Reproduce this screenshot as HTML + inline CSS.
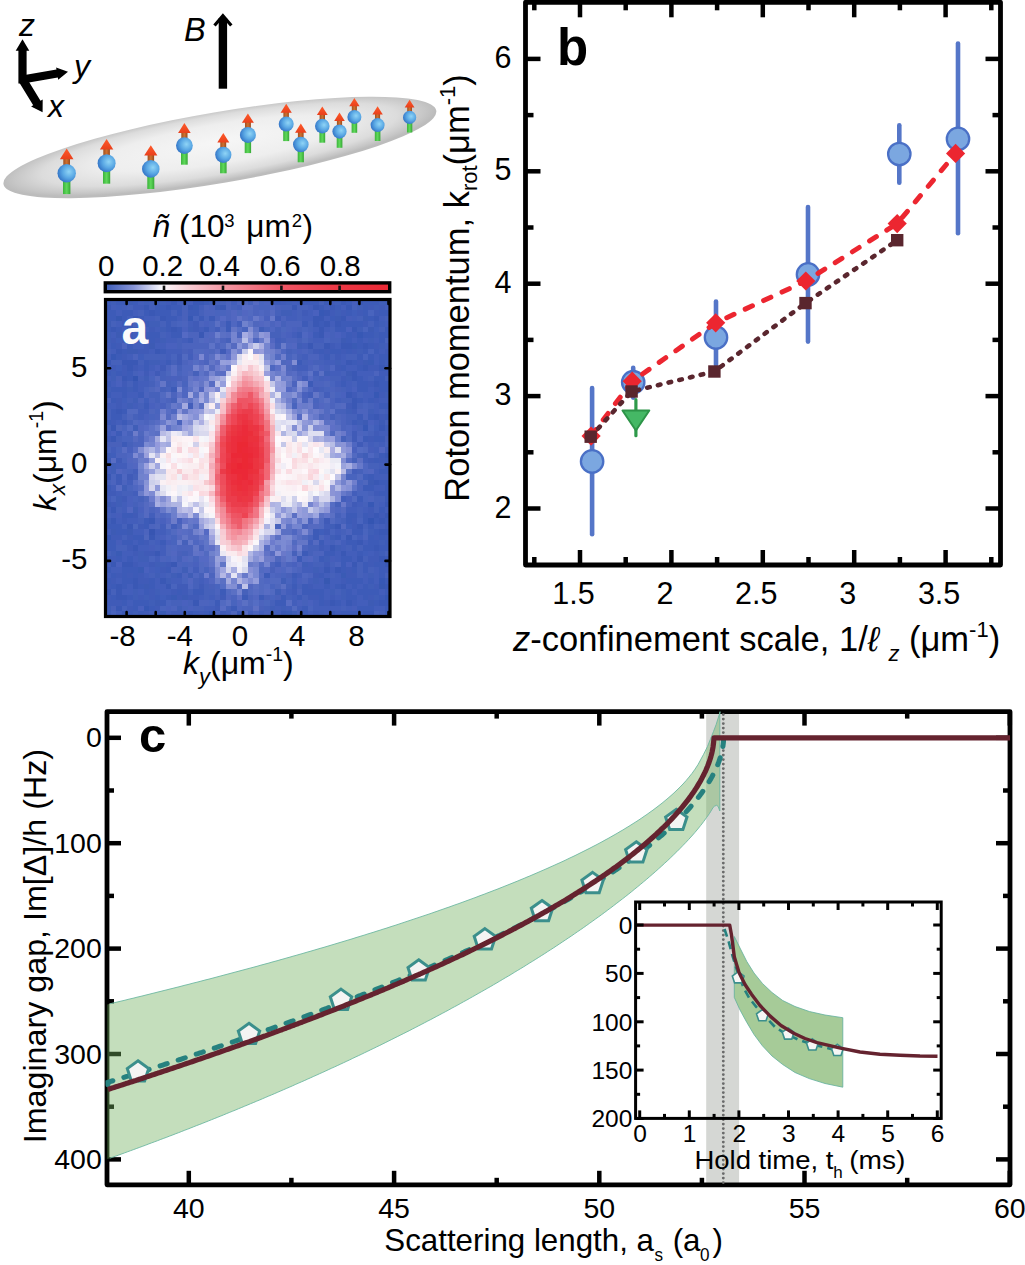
<!DOCTYPE html><html><head><meta charset="utf-8"><style>html,body{margin:0;padding:0;background:#fff;}svg{display:block;} text{font-family:"Liberation Sans", sans-serif;}</style></head><body><svg width="1025" height="1265" viewBox="0 0 1025 1265"><rect width="1025" height="1265" fill="#fff"/><defs><radialGradient id="cig" cx="0.5" cy="0.47" r="0.5" fx="0.5" fy="0.42"><stop offset="0" stop-color="#f6f6f6"/><stop offset="0.55" stop-color="#eeeeee"/><stop offset="0.82" stop-color="#dcdcdc"/><stop offset="0.95" stop-color="#c6c6c6"/><stop offset="1" stop-color="#bcbcbc"/></radialGradient><radialGradient id="ball" cx="0.62" cy="0.42" r="0.62"><stop offset="0" stop-color="#8fd4f6"/><stop offset="0.55" stop-color="#5aa8e4"/><stop offset="1" stop-color="#3577c8"/></radialGradient><linearGradient id="shaft" x1="0" x2="1"><stop offset="0" stop-color="#a0501f"/><stop offset="0.5" stop-color="#d0702e"/><stop offset="1" stop-color="#9a4a1c"/></linearGradient><linearGradient id="grn" x1="0" x2="1"><stop offset="0" stop-color="#3cb43c"/><stop offset="0.5" stop-color="#5fd85a"/><stop offset="1" stop-color="#36a836"/></linearGradient><linearGradient id="head" x1="0" x2="0" y1="0" y2="1"><stop offset="0" stop-color="#ff5a2a"/><stop offset="1" stop-color="#e8401c"/></linearGradient></defs>
<g transform="translate(219.9,147.4) rotate(-9.64)"><ellipse cx="0" cy="0" rx="219.5" ry="35.5" fill="url(#cig)"/></g>
<rect x="63" y="178.7" width="7.4" height="15.4" fill="url(#grn)"/>
<rect x="63.3" y="158.4" width="6.7" height="7.2" fill="url(#shaft)"/>
<polygon points="66.7,148.5 73.5,159.3 59.9,159.3" fill="url(#head)"/>
<circle cx="66.7" cy="173.2" r="9.2" fill="url(#ball)"/>
<rect x="103" y="168.6" width="7.2" height="15.1" fill="url(#grn)"/>
<rect x="103.3" y="148.7" width="6.6" height="7" fill="url(#shaft)"/>
<polygon points="106.6,139 113.3,149.6 99.9,149.6" fill="url(#head)"/>
<circle cx="106.6" cy="163.2" r="9" fill="url(#ball)"/>
<rect x="147.3" y="174.2" width="7" height="14.8" fill="url(#grn)"/>
<rect x="147.6" y="154.7" width="6.5" height="6.8" fill="url(#shaft)"/>
<polygon points="150.8,145.2 157.4,155.6 144.2,155.6" fill="url(#head)"/>
<circle cx="150.8" cy="168.9" r="8.8" fill="url(#ball)"/>
<rect x="181" y="150.6" width="6.7" height="14.1" fill="url(#grn)"/>
<rect x="181.3" y="132.1" width="6.2" height="6.5" fill="url(#shaft)"/>
<polygon points="184.4,123 190.7,132.9 178.1,132.9" fill="url(#head)"/>
<circle cx="184.4" cy="145.6" r="8.4" fill="url(#ball)"/>
<rect x="220.1" y="159.7" width="6.5" height="13.6" fill="url(#grn)"/>
<rect x="220.3" y="141.8" width="5.9" height="6.3" fill="url(#shaft)"/>
<polygon points="223.3,133 229.3,142.6 217.3,142.6" fill="url(#head)"/>
<circle cx="223.3" cy="154.8" r="8.1" fill="url(#ball)"/>
<rect x="244.7" y="139.7" width="6.4" height="13.4" fill="url(#grn)"/>
<rect x="245" y="122" width="5.9" height="6.2" fill="url(#shaft)"/>
<polygon points="247.9,113.4 253.9,122.8 241.9,122.8" fill="url(#head)"/>
<circle cx="247.9" cy="134.9" r="8" fill="url(#ball)"/>
<rect x="283.2" y="128.5" width="6" height="12.6" fill="url(#grn)"/>
<rect x="283.4" y="111.9" width="5.5" height="5.8" fill="url(#shaft)"/>
<polygon points="286.2,103.8 291.8,112.7 280.6,112.7" fill="url(#head)"/>
<circle cx="286.2" cy="124" r="7.5" fill="url(#ball)"/>
<rect x="297.7" y="149.2" width="6.2" height="13.1" fill="url(#grn)"/>
<rect x="297.9" y="131.9" width="5.7" height="6.1" fill="url(#shaft)"/>
<polygon points="300.8,123.5 306.6,132.7 295,132.7" fill="url(#head)"/>
<circle cx="300.8" cy="144.5" r="7.8" fill="url(#ball)"/>
<rect x="319.4" y="130.5" width="5.8" height="12.2" fill="url(#grn)"/>
<rect x="319.6" y="114.3" width="5.4" height="5.7" fill="url(#shaft)"/>
<polygon points="322.3,106.5 327.7,115.1 316.9,115.1" fill="url(#head)"/>
<circle cx="322.3" cy="126.1" r="7.3" fill="url(#ball)"/>
<rect x="336.7" y="135.9" width="5.7" height="11.9" fill="url(#grn)"/>
<rect x="336.9" y="120.2" width="5.2" height="5.5" fill="url(#shaft)"/>
<polygon points="339.5,112.5 344.8,120.9 334.2,120.9" fill="url(#head)"/>
<circle cx="339.5" cy="131.6" r="7.1" fill="url(#ball)"/>
<rect x="351.6" y="121.1" width="5.6" height="11.7" fill="url(#grn)"/>
<rect x="351.8" y="105.6" width="5.1" height="5.4" fill="url(#shaft)"/>
<polygon points="354.4,98.1 359.6,106.3 349.2,106.3" fill="url(#head)"/>
<circle cx="354.4" cy="116.9" r="7" fill="url(#ball)"/>
<rect x="374.8" y="129.3" width="5.6" height="11.7" fill="url(#grn)"/>
<rect x="375" y="113.8" width="5.1" height="5.4" fill="url(#shaft)"/>
<polygon points="377.6,106.3 382.8,114.5 372.4,114.5" fill="url(#head)"/>
<circle cx="377.6" cy="125.1" r="7" fill="url(#ball)"/>
<rect x="407" y="121.4" width="5.3" height="11.1" fill="url(#grn)"/>
<rect x="407.2" y="106.8" width="4.8" height="5.1" fill="url(#shaft)"/>
<polygon points="409.6,99.7 414.5,107.4 404.7,107.4" fill="url(#head)"/>
<circle cx="409.6" cy="117.4" r="6.6" fill="url(#ball)"/>
<polygon points="26.6,83.5 26.6,50.7 29.3,50.7 22.5,39.3 15.7,50.7 18.4,50.7 18.4,83.5" fill="#000"/>
<polygon points="23.2,83.4 57.8,77.5 58.2,79.7 68,71.7 56.1,67.4 56.5,69.6 21.8,75.6" fill="#000"/>
<polygon points="18.8,81.7 33.2,105.2 31.1,106.5 42.6,112.3 42.7,99.4 40.5,100.7 26.2,77.3" fill="#000"/>
<text x="19" y="35.5" font-size="32" text-anchor="start" font-weight="normal" font-style="italic" fill="#000" >z</text>
<text x="74" y="76.5" font-size="32" text-anchor="start" font-weight="normal" font-style="italic" fill="#000" >y</text>
<text x="48" y="116.5" font-size="32" text-anchor="start" font-weight="normal" font-style="italic" fill="#000" >x</text>
<rect x="218.7" y="18" width="8.4" height="70.7" fill="#000"/>
<polyline points="214.5,25.5 222.9,15.8 231.3,25.5" fill="none" stroke="#000" stroke-width="3.2" stroke-linejoin="miter"/>
<text x="184" y="40.6" font-size="32.5" text-anchor="start" font-weight="normal" font-style="italic" fill="#000" >B</text>
<g shape-rendering="crispEdges">
<path fill="rgb(61, 91, 184)" d="M106 300h5v5h-5zM116 300h6v5h-6zM122 300h5v5h-5zM133 300h5v5h-5zM204 300h5v5h-5zM275 300h6v5h-6zM302 300h6v5h-6zM308 300h5v5h-5zM313 300h6v5h-6zM324 300h6v5h-6zM346 300h6v5h-6zM363 300h5v5h-5zM368 300h6v5h-6zM374 300h5v5h-5zM385 300h5v5h-5zM155 305h5v5h-5zM160 305h6v5h-6zM171 305h6v5h-6zM177 305h5v5h-5zM319 305h5v5h-5zM335 305h6v5h-6zM363 305h5v5h-5zM106 310h5v6h-5zM111 310h5v6h-5zM122 310h5v6h-5zM127 310h6v6h-6zM144 310h5v6h-5zM155 310h5v6h-5zM160 310h6v6h-6zM166 310h5v6h-5zM177 310h5v6h-5zM188 310h5v6h-5zM193 310h6v6h-6zM346 310h6v6h-6zM363 310h5v6h-5zM379 310h6v6h-6zM385 310h5v6h-5zM106 316h5v5h-5zM111 316h5v5h-5zM122 316h5v5h-5zM138 316h6v5h-6zM166 316h5v5h-5zM171 316h6v5h-6zM199 316h5v5h-5zM209 316h6v5h-6zM330 316h5v5h-5zM368 316h6v5h-6zM122 321h5v6h-5zM138 321h6v6h-6zM144 321h5v6h-5zM166 321h5v6h-5zM226 321h5v6h-5zM302 321h6v6h-6zM319 321h5v6h-5zM341 321h5v6h-5zM346 321h6v6h-6zM352 321h5v6h-5zM357 321h6v6h-6zM374 321h5v6h-5zM106 327h5v5h-5zM116 327h6v5h-6zM133 327h5v5h-5zM166 327h5v5h-5zM177 327h5v5h-5zM204 327h5v5h-5zM226 327h5v5h-5zM335 327h6v5h-6zM341 327h5v5h-5zM385 327h5v5h-5zM122 332h5v6h-5zM144 332h5v6h-5zM149 332h6v6h-6zM155 332h5v6h-5zM171 332h6v6h-6zM177 332h5v6h-5zM297 332h5v6h-5zM313 332h6v6h-6zM346 332h6v6h-6zM363 332h5v6h-5zM368 332h6v6h-6zM379 332h6v6h-6zM385 332h5v6h-5zM127 338h6v5h-6zM144 338h5v5h-5zM149 338h6v5h-6zM188 338h5v5h-5zM346 338h6v5h-6zM357 338h6v5h-6zM379 338h6v5h-6zM111 343h5v6h-5zM127 343h6v6h-6zM357 343h6v6h-6zM368 343h6v6h-6zM122 349h5v5h-5zM160 349h6v5h-6zM319 349h5v5h-5zM330 349h5v5h-5zM335 349h6v5h-6zM346 349h6v5h-6zM363 349h5v5h-5zM374 349h5v5h-5zM116 354h6v6h-6zM324 354h6v6h-6zM357 354h6v6h-6zM368 354h6v6h-6zM379 354h6v6h-6zM385 354h5v6h-5zM144 360h5v5h-5zM166 360h5v5h-5zM297 360h5v5h-5zM352 360h5v5h-5zM379 360h6v5h-6zM144 365h5v6h-5zM341 365h5v6h-5zM357 365h6v6h-6zM385 365h5v6h-5zM106 371h5v5h-5zM116 371h6v5h-6zM127 371h6v5h-6zM127 376h6v5h-6zM357 376h6v5h-6zM374 376h5v5h-5zM379 376h6v5h-6zM106 381h5v6h-5zM133 381h5v6h-5zM308 381h5v6h-5zM341 381h5v6h-5zM357 381h6v6h-6zM363 381h5v6h-5zM379 381h6v6h-6zM385 381h5v6h-5zM111 387h5v5h-5zM116 387h6v5h-6zM122 387h5v5h-5zM133 387h5v5h-5zM171 387h6v5h-6zM357 387h6v5h-6zM363 387h5v5h-5zM379 387h6v5h-6zM385 387h5v5h-5zM106 392h5v6h-5zM122 392h5v6h-5zM138 392h6v6h-6zM111 398h5v5h-5zM357 398h6v5h-6zM368 398h6v5h-6zM144 403h5v6h-5zM379 403h6v6h-6zM385 403h5v6h-5zM111 409h5v5h-5zM122 409h5v5h-5zM111 414h5v6h-5zM116 414h6v6h-6zM357 414h6v6h-6zM368 414h6v6h-6zM385 414h5v6h-5zM106 420h5v5h-5zM122 420h5v5h-5zM352 420h5v5h-5zM116 431h6v5h-6zM363 436h5v6h-5zM374 436h5v6h-5zM379 436h6v6h-6zM122 442h5v5h-5zM379 453h6v5h-6zM106 458h5v5h-5zM374 458h5v5h-5zM385 458h5v5h-5zM385 463h5v6h-5zM379 469h6v5h-6zM385 469h5v5h-5zM116 474h6v6h-6zM368 474h6v6h-6zM379 480h6v5h-6zM385 480h5v5h-5zM106 485h5v6h-5zM363 485h5v6h-5zM368 485h6v6h-6zM385 485h5v6h-5zM379 491h6v5h-6zM385 491h5v5h-5zM357 496h6v6h-6zM385 496h5v6h-5zM379 507h6v6h-6zM122 513h5v5h-5zM127 513h6v5h-6zM346 513h6v5h-6zM352 513h5v5h-5zM363 513h5v5h-5zM144 518h5v6h-5zM346 518h6v6h-6zM363 518h5v6h-5zM374 518h5v6h-5zM385 518h5v6h-5zM106 524h5v5h-5zM111 524h5v5h-5zM116 524h6v5h-6zM144 524h5v5h-5zM368 524h6v5h-6zM116 529h6v6h-6zM122 529h5v6h-5zM313 529h6v6h-6zM352 529h5v6h-5zM357 529h6v6h-6zM374 529h5v6h-5zM133 535h5v5h-5zM138 535h6v5h-6zM313 535h6v5h-6zM335 535h6v5h-6zM368 535h6v5h-6zM379 535h6v5h-6zM106 540h5v5h-5zM111 540h5v5h-5zM122 540h5v5h-5zM127 540h6v5h-6zM138 540h6v5h-6zM160 540h6v5h-6zM319 540h5v5h-5zM346 540h6v5h-6zM352 540h5v5h-5zM368 540h6v5h-6zM374 540h5v5h-5zM385 540h5v5h-5zM106 545h5v6h-5zM111 545h5v6h-5zM352 545h5v6h-5zM363 545h5v6h-5zM368 545h6v6h-6zM379 545h6v6h-6zM385 545h5v6h-5zM302 551h6v5h-6zM324 551h6v5h-6zM330 551h5v5h-5zM357 551h6v5h-6zM106 556h5v6h-5zM116 556h6v6h-6zM127 556h6v6h-6zM297 556h5v6h-5zM319 556h5v6h-5zM341 556h5v6h-5zM346 556h6v6h-6zM385 556h5v6h-5zM341 562h5v5h-5zM363 562h5v5h-5zM374 562h5v5h-5zM379 562h6v5h-6zM106 567h5v6h-5zM122 567h5v6h-5zM127 567h6v6h-6zM133 567h5v6h-5zM166 567h5v6h-5zM341 567h5v6h-5zM352 567h5v6h-5zM363 567h5v6h-5zM379 567h6v6h-6zM111 573h5v5h-5zM122 573h5v5h-5zM133 573h5v5h-5zM177 573h5v5h-5zM264 573h6v5h-6zM292 573h5v5h-5zM319 573h5v5h-5zM379 573h6v5h-6zM106 578h5v6h-5zM122 578h5v6h-5zM127 578h6v6h-6zM149 578h6v6h-6zM346 578h6v6h-6zM352 578h5v6h-5zM357 578h6v6h-6zM368 578h6v6h-6zM385 578h5v6h-5zM111 584h5v5h-5zM122 584h5v5h-5zM138 584h6v5h-6zM149 584h6v5h-6zM292 584h5v5h-5zM302 584h6v5h-6zM324 584h6v5h-6zM335 584h6v5h-6zM352 584h5v5h-5zM363 584h5v5h-5zM144 589h5v6h-5zM177 589h5v6h-5zM193 589h6v6h-6zM199 589h5v6h-5zM220 589h6v6h-6zM302 589h6v6h-6zM308 589h5v6h-5zM313 589h6v6h-6zM319 589h5v6h-5zM346 589h6v6h-6zM357 589h6v6h-6zM363 589h5v6h-5zM368 589h6v6h-6zM374 589h5v6h-5zM385 589h5v6h-5zM111 595h5v5h-5zM127 595h6v5h-6zM155 595h5v5h-5zM166 595h5v5h-5zM242 595h6v5h-6zM259 595h5v5h-5zM281 595h5v5h-5zM297 595h5v5h-5zM319 595h5v5h-5zM346 595h6v5h-6zM352 595h5v5h-5zM363 595h5v5h-5zM379 595h6v5h-6zM122 600h5v6h-5zM133 600h5v6h-5zM138 600h6v6h-6zM144 600h5v6h-5zM160 600h6v6h-6zM215 600h5v6h-5zM275 600h6v6h-6zM281 600h5v6h-5zM319 600h5v6h-5zM335 600h6v6h-6zM374 600h5v6h-5zM133 606h5v5h-5zM149 606h6v5h-6zM231 606h6v5h-6zM302 606h6v5h-6zM357 606h6v5h-6zM363 606h5v5h-5zM368 606h6v5h-6zM385 606h5v5h-5zM127 611h6v5h-6zM138 611h6v5h-6zM182 611h6v5h-6zM193 611h6v5h-6zM204 611h5v5h-5zM302 611h6v5h-6zM341 611h5v5h-5zM346 611h6v5h-6zM352 611h5v5h-5zM357 611h6v5h-6zM385 611h5v5h-5z"/>
<path fill="rgb(64, 94, 184)" d="M111 300h5v5h-5zM144 300h5v5h-5zM160 300h6v5h-6zM209 300h6v5h-6zM286 300h6v5h-6zM335 300h6v5h-6zM379 300h6v5h-6zM357 305h6v5h-6zM374 305h5v5h-5zM281 310h5v6h-5zM286 310h6v6h-6zM335 310h6v6h-6zM149 321h6v6h-6zM155 321h5v6h-5zM379 321h6v6h-6zM160 327h6v5h-6zM188 327h5v5h-5zM259 327h5v5h-5zM357 327h6v5h-6zM106 332h5v6h-5zM374 332h5v6h-5zM106 338h5v5h-5zM160 338h6v5h-6zM368 338h6v5h-6zM297 343h5v6h-5zM379 343h6v6h-6zM357 349h6v5h-6zM149 360h6v5h-6zM155 360h5v5h-5zM335 360h6v5h-6zM111 371h5v5h-5zM324 371h6v5h-6zM111 376h5v5h-5zM144 376h5v5h-5zM346 376h6v5h-6zM106 387h5v5h-5zM127 387h6v5h-6zM385 392h5v6h-5zM133 398h5v5h-5zM127 403h6v6h-6zM346 409h6v5h-6zM368 409h6v5h-6zM357 420h6v5h-6zM133 425h5v6h-5zM385 425h5v6h-5zM106 453h5v5h-5zM363 453h5v5h-5zM111 463h5v6h-5zM111 469h5v5h-5zM122 485h5v6h-5zM116 496h6v6h-6zM116 502h6v5h-6zM133 507h5v6h-5zM106 518h5v6h-5zM330 524h5v5h-5zM368 529h6v6h-6zM330 535h5v5h-5zM379 540h6v5h-6zM335 545h6v6h-6zM111 551h5v5h-5zM138 551h6v5h-6zM379 551h6v5h-6zM138 556h6v6h-6zM144 556h5v6h-5zM324 556h6v6h-6zM155 562h5v5h-5zM160 562h6v5h-6zM302 562h6v5h-6zM182 567h6v6h-6zM313 567h6v6h-6zM155 573h5v5h-5zM171 573h6v5h-6zM188 573h5v5h-5zM368 573h6v5h-6zM166 578h5v6h-5zM281 578h5v6h-5zM313 578h6v6h-6zM368 584h6v5h-6zM133 589h5v6h-5zM155 589h5v6h-5zM275 589h6v6h-6zM330 589h5v6h-5zM341 589h5v6h-5zM133 595h5v5h-5zM144 595h5v5h-5zM341 595h5v5h-5zM374 595h5v5h-5zM149 600h6v6h-6zM106 606h5v5h-5zM177 606h5v5h-5zM270 606h5v5h-5zM281 606h5v5h-5zM106 611h5v5h-5zM133 611h5v5h-5zM292 611h5v5h-5zM319 611h5v5h-5z"/>
<path fill="rgb(61, 91, 181)" d="M127 300h6v5h-6zM215 305h5v5h-5zM335 316h6v5h-6zM363 316h5v5h-5zM106 321h5v6h-5zM368 327h6v5h-6zM116 332h6v6h-6zM341 338h5v5h-5zM149 343h6v6h-6zM127 349h6v5h-6zM133 349h5v5h-5zM363 360h5v5h-5zM346 371h6v5h-6zM363 420h5v5h-5zM379 420h6v5h-6zM368 480h6v5h-6zM106 502h5v5h-5zM111 529h5v6h-5zM127 529h6v6h-6zM144 584h5v5h-5zM182 595h6v5h-6zM155 600h5v6h-5zM368 600h6v6h-6z"/>
<path fill="rgb(67, 94, 187)" d="M138 300h6v5h-6zM149 300h6v5h-6zM177 300h5v5h-5zM182 300h6v5h-6zM188 300h5v5h-5zM231 300h6v5h-6zM292 300h5v5h-5zM111 305h5v5h-5zM122 305h5v5h-5zM149 305h6v5h-6zM199 305h5v5h-5zM237 305h5v5h-5zM308 305h5v5h-5zM324 305h6v5h-6zM341 305h5v5h-5zM385 305h5v5h-5zM116 310h6v6h-6zM133 310h5v6h-5zM292 310h5v6h-5zM308 310h5v6h-5zM127 316h6v5h-6zM144 316h5v5h-5zM149 316h6v5h-6zM177 316h5v5h-5zM286 316h6v5h-6zM292 316h5v5h-5zM302 316h6v5h-6zM308 316h5v5h-5zM324 316h6v5h-6zM352 316h5v5h-5zM379 316h6v5h-6zM116 321h6v6h-6zM188 321h5v6h-5zM237 321h5v6h-5zM330 321h5v6h-5zM385 321h5v6h-5zM122 327h5v5h-5zM138 327h6v5h-6zM144 327h5v5h-5zM155 327h5v5h-5zM199 327h5v5h-5zM215 327h5v5h-5zM313 327h6v5h-6zM324 327h6v5h-6zM111 332h5v6h-5zM133 332h5v6h-5zM166 332h5v6h-5zM292 332h5v6h-5zM341 332h5v6h-5zM133 338h5v5h-5zM166 338h5v5h-5zM171 338h6v5h-6zM182 338h6v5h-6zM275 338h6v5h-6zM313 338h6v5h-6zM319 338h5v5h-5zM352 338h5v5h-5zM363 338h5v5h-5zM374 338h5v5h-5zM106 343h5v6h-5zM133 343h5v6h-5zM138 343h6v6h-6zM155 343h5v6h-5zM160 343h6v6h-6zM302 343h6v6h-6zM335 343h6v6h-6zM385 343h5v6h-5zM111 349h5v5h-5zM149 349h6v5h-6zM166 349h5v5h-5zM171 349h6v5h-6zM177 349h5v5h-5zM379 349h6v5h-6zM106 354h5v6h-5zM127 354h6v6h-6zM166 354h5v6h-5zM188 354h5v6h-5zM302 354h6v6h-6zM319 354h5v6h-5zM341 354h5v6h-5zM374 354h5v6h-5zM160 360h6v5h-6zM324 360h6v5h-6zM330 360h5v5h-5zM341 360h5v5h-5zM374 360h5v5h-5zM106 365h5v6h-5zM138 365h6v6h-6zM149 365h6v6h-6zM297 365h5v6h-5zM302 365h6v6h-6zM346 365h6v6h-6zM352 365h5v6h-5zM313 371h6v5h-6zM330 371h5v5h-5zM335 371h6v5h-6zM357 371h6v5h-6zM363 371h5v5h-5zM368 371h6v5h-6zM106 376h5v5h-5zM302 376h6v5h-6zM363 376h5v5h-5zM111 381h5v6h-5zM138 381h6v6h-6zM144 381h5v6h-5zM335 381h6v6h-6zM346 381h6v6h-6zM138 387h6v5h-6zM346 387h6v5h-6zM368 387h6v5h-6zM111 392h5v6h-5zM116 392h6v6h-6zM127 392h6v6h-6zM133 392h5v6h-5zM308 392h5v6h-5zM324 392h6v6h-6zM363 392h5v6h-5zM368 392h6v6h-6zM335 398h6v5h-6zM363 398h5v5h-5zM379 398h6v5h-6zM385 398h5v5h-5zM106 403h5v6h-5zM111 403h5v6h-5zM122 403h5v6h-5zM133 403h5v6h-5zM188 403h5v6h-5zM374 403h5v6h-5zM138 409h6v5h-6zM144 409h5v5h-5zM374 409h5v5h-5zM385 409h5v5h-5zM138 414h6v6h-6zM116 420h6v5h-6zM374 420h5v5h-5zM106 431h5v5h-5zM379 431h6v5h-6zM385 431h5v5h-5zM368 442h6v5h-6zM379 442h6v5h-6zM111 447h5v6h-5zM374 447h5v6h-5zM385 447h5v6h-5zM363 458h5v5h-5zM106 463h5v6h-5zM116 463h6v6h-6zM122 463h5v6h-5zM379 463h6v6h-6zM106 469h5v5h-5zM133 469h5v5h-5zM352 469h5v5h-5zM374 469h5v5h-5zM374 474h5v6h-5zM379 474h6v6h-6zM385 474h5v6h-5zM127 480h6v5h-6zM111 485h5v6h-5zM374 485h5v6h-5zM379 485h6v6h-6zM116 491h6v5h-6zM133 491h5v5h-5zM352 491h5v5h-5zM106 496h5v6h-5zM341 496h5v6h-5zM122 502h5v5h-5zM357 502h6v5h-6zM379 502h6v5h-6zM106 507h5v6h-5zM122 507h5v6h-5zM346 507h6v6h-6zM352 507h5v6h-5zM363 507h5v6h-5zM385 507h5v6h-5zM111 513h5v5h-5zM149 513h6v5h-6zM116 518h6v6h-6zM127 518h6v6h-6zM133 518h5v6h-5zM160 524h6v5h-6zM171 524h6v5h-6zM324 524h6v5h-6zM379 524h6v5h-6zM106 529h5v6h-5zM133 529h5v6h-5zM138 529h6v6h-6zM155 529h5v6h-5zM160 529h6v6h-6zM335 529h6v6h-6zM357 535h6v5h-6zM133 540h5v5h-5zM155 540h5v5h-5zM308 540h5v5h-5zM341 540h5v5h-5zM363 540h5v5h-5zM138 545h6v6h-6zM144 545h5v6h-5zM160 545h6v6h-6zM324 545h6v6h-6zM341 545h5v6h-5zM122 551h5v5h-5zM127 551h6v5h-6zM160 551h6v5h-6zM335 551h6v5h-6zM346 551h6v5h-6zM352 551h5v5h-5zM368 551h6v5h-6zM122 556h5v6h-5zM133 556h5v6h-5zM155 556h5v6h-5zM335 556h6v6h-6zM352 556h5v6h-5zM106 562h5v5h-5zM138 562h6v5h-6zM144 562h5v5h-5zM275 562h6v5h-6zM308 562h5v5h-5zM111 567h5v6h-5zM116 567h6v6h-6zM149 567h6v6h-6zM193 567h6v6h-6zM302 567h6v6h-6zM308 567h5v6h-5zM319 567h5v6h-5zM330 567h5v6h-5zM374 567h5v6h-5zM106 573h5v5h-5zM144 573h5v5h-5zM160 573h6v5h-6zM297 573h5v5h-5zM324 573h6v5h-6zM335 573h6v5h-6zM363 573h5v5h-5zM374 573h5v5h-5zM116 578h6v6h-6zM155 578h5v6h-5zM171 578h6v6h-6zM177 578h5v6h-5zM199 578h5v6h-5zM308 578h5v6h-5zM319 578h5v6h-5zM330 578h5v6h-5zM335 578h6v6h-6zM363 578h5v6h-5zM374 578h5v6h-5zM127 584h6v5h-6zM155 584h5v5h-5zM160 584h6v5h-6zM313 584h6v5h-6zM319 584h5v5h-5zM330 584h5v5h-5zM346 584h6v5h-6zM357 584h6v5h-6zM122 589h5v6h-5zM127 589h6v6h-6zM138 589h6v6h-6zM160 589h6v6h-6zM166 589h5v6h-5zM286 589h6v6h-6zM324 589h6v6h-6zM352 589h5v6h-5zM379 589h6v6h-6zM199 595h5v5h-5zM209 595h6v5h-6zM292 595h5v5h-5zM324 595h6v5h-6zM335 595h6v5h-6zM357 595h6v5h-6zM127 600h6v6h-6zM292 600h5v6h-5zM313 600h6v6h-6zM341 600h5v6h-5zM357 600h6v6h-6zM363 600h5v6h-5zM204 606h5v5h-5zM209 606h6v5h-6zM275 606h6v5h-6zM286 606h6v5h-6zM297 606h5v5h-5zM313 606h6v5h-6zM319 606h5v5h-5zM324 606h6v5h-6zM330 606h5v5h-5zM335 606h6v5h-6zM346 606h6v5h-6zM374 606h5v5h-5zM379 606h6v5h-6zM116 611h6v5h-6zM149 611h6v5h-6zM166 611h5v5h-5zM226 611h5v5h-5zM248 611h5v5h-5zM259 611h5v5h-5zM275 611h6v5h-6zM308 611h5v5h-5zM324 611h6v5h-6z"/>
<path fill="rgb(64, 91, 184)" d="M155 300h5v5h-5zM166 300h5v5h-5zM270 300h5v5h-5zM281 300h5v5h-5zM330 300h5v5h-5zM133 305h5v5h-5zM138 305h6v5h-6zM368 305h6v5h-6zM379 305h6v5h-6zM302 310h6v6h-6zM330 310h5v6h-5zM341 310h5v6h-5zM357 310h6v6h-6zM374 310h5v6h-5zM275 316h6v5h-6zM193 321h6v6h-6zM363 321h5v6h-5zM149 327h6v5h-6zM193 327h6v5h-6zM127 332h6v6h-6zM138 332h6v6h-6zM352 332h5v6h-5zM111 338h5v5h-5zM122 338h5v5h-5zM138 338h6v5h-6zM155 338h5v5h-5zM116 343h6v6h-6zM144 343h5v6h-5zM330 343h5v6h-5zM374 343h5v6h-5zM138 349h6v5h-6zM144 349h5v5h-5zM220 349h6v5h-6zM313 349h6v5h-6zM324 349h6v5h-6zM341 349h5v5h-5zM352 349h5v5h-5zM385 349h5v5h-5zM122 354h5v6h-5zM177 354h5v6h-5zM335 354h6v6h-6zM177 360h5v5h-5zM357 360h6v5h-6zM111 365h5v6h-5zM122 365h5v6h-5zM133 365h5v6h-5zM160 365h6v6h-6zM335 365h6v6h-6zM368 365h6v6h-6zM374 365h5v6h-5zM122 371h5v5h-5zM144 371h5v5h-5zM155 371h5v5h-5zM379 371h6v5h-6zM385 371h5v5h-5zM341 376h5v5h-5zM122 381h5v6h-5zM368 381h6v6h-6zM374 387h5v5h-5zM352 392h5v6h-5zM379 392h6v6h-6zM116 398h6v5h-6zM374 398h5v5h-5zM116 403h6v6h-6zM346 403h6v6h-6zM352 409h5v5h-5zM379 414h6v6h-6zM111 420h5v5h-5zM352 431h5v5h-5zM374 431h5v5h-5zM106 436h5v6h-5zM352 436h5v6h-5zM368 436h6v6h-6zM357 442h6v5h-6zM116 458h6v5h-6zM368 458h6v5h-6zM379 458h6v5h-6zM127 474h6v6h-6zM116 480h6v5h-6zM106 491h5v5h-5zM111 491h5v5h-5zM374 491h5v5h-5zM122 496h5v6h-5zM111 502h5v5h-5zM352 502h5v5h-5zM368 507h6v6h-6zM133 513h5v5h-5zM368 513h6v5h-6zM379 513h6v5h-6zM122 518h5v6h-5zM324 518h6v6h-6zM352 518h5v6h-5zM138 524h6v5h-6zM352 524h5v5h-5zM385 524h5v5h-5zM324 529h6v6h-6zM111 535h5v5h-5zM116 535h6v5h-6zM127 535h6v5h-6zM374 535h5v5h-5zM385 535h5v5h-5zM144 540h5v5h-5zM127 545h6v6h-6zM319 545h5v6h-5zM133 551h5v5h-5zM144 551h5v5h-5zM149 551h6v5h-6zM374 551h5v5h-5zM111 556h5v6h-5zM368 556h6v6h-6zM374 556h5v6h-5zM133 562h5v5h-5zM149 562h6v5h-6zM166 562h5v5h-5zM324 562h6v5h-6zM368 562h6v5h-6zM160 567h6v6h-6zM346 567h6v6h-6zM385 567h5v6h-5zM116 573h6v5h-6zM127 573h6v5h-6zM138 573h6v5h-6zM313 573h6v5h-6zM346 573h6v5h-6zM352 573h5v5h-5zM111 578h5v6h-5zM138 578h6v6h-6zM144 578h5v6h-5zM341 578h5v6h-5zM106 584h5v5h-5zM177 584h5v5h-5zM182 584h6v5h-6zM199 584h5v5h-5zM308 584h5v5h-5zM374 584h5v5h-5zM149 589h6v6h-6zM171 589h6v6h-6zM182 589h6v6h-6zM292 589h5v6h-5zM106 595h5v5h-5zM138 595h6v5h-6zM149 595h6v5h-6zM177 595h5v5h-5zM188 595h5v5h-5zM193 595h6v5h-6zM220 595h6v5h-6zM308 595h5v5h-5zM313 595h6v5h-6zM330 595h5v5h-5zM368 595h6v5h-6zM106 600h5v6h-5zM111 600h5v6h-5zM116 600h6v6h-6zM324 600h6v6h-6zM352 600h5v6h-5zM127 606h6v5h-6zM155 606h5v5h-5zM215 606h5v5h-5zM144 611h5v5h-5zM155 611h5v5h-5zM171 611h6v5h-6zM177 611h5v5h-5zM199 611h5v5h-5zM220 611h6v5h-6zM313 611h6v5h-6zM335 611h6v5h-6z"/>
<path fill="rgb(58, 88, 181)" d="M171 300h6v5h-6zM193 300h6v5h-6zM199 300h5v5h-5zM341 300h5v5h-5zM357 300h6v5h-6zM106 305h5v5h-5zM144 305h5v5h-5zM166 305h5v5h-5zM188 305h5v5h-5zM220 305h6v5h-6zM292 305h5v5h-5zM313 305h6v5h-6zM330 305h5v5h-5zM346 305h6v5h-6zM149 310h6v6h-6zM324 310h6v6h-6zM133 316h5v5h-5zM160 316h6v5h-6zM313 316h6v5h-6zM319 316h5v5h-5zM341 316h5v5h-5zM374 316h5v5h-5zM127 321h6v6h-6zM313 321h6v6h-6zM324 321h6v6h-6zM335 321h6v6h-6zM111 327h5v5h-5zM127 327h6v5h-6zM171 327h6v5h-6zM319 327h5v5h-5zM352 327h5v5h-5zM199 332h5v6h-5zM319 332h5v6h-5zM308 343h5v6h-5zM324 343h6v6h-6zM341 343h5v6h-5zM346 343h6v6h-6zM363 343h5v6h-5zM116 349h6v5h-6zM155 349h5v5h-5zM106 360h5v5h-5zM122 360h5v5h-5zM127 360h6v5h-6zM133 360h5v5h-5zM346 360h6v5h-6zM127 365h6v6h-6zM363 365h5v6h-5zM379 365h6v6h-6zM352 371h5v5h-5zM122 376h5v5h-5zM352 376h5v5h-5zM374 381h5v6h-5zM346 392h6v6h-6zM352 398h5v5h-5zM352 403h5v6h-5zM116 409h6v5h-6zM374 414h5v6h-5zM111 425h5v6h-5zM379 425h6v6h-6zM111 436h5v6h-5zM385 453h5v5h-5zM106 474h5v6h-5zM374 480h5v5h-5zM385 502h5v5h-5zM111 507h5v6h-5zM374 513h5v5h-5zM385 513h5v5h-5zM111 518h5v6h-5zM149 518h6v6h-6zM379 518h6v6h-6zM127 524h6v5h-6zM335 524h6v5h-6zM357 524h6v5h-6zM379 529h6v6h-6zM385 529h5v6h-5zM149 535h6v5h-6zM346 535h6v5h-6zM357 540h6v5h-6zM133 545h5v6h-5zM330 545h5v6h-5zM374 545h5v6h-5zM155 551h5v5h-5zM341 551h5v5h-5zM357 556h6v6h-6zM379 556h6v6h-6zM111 562h5v5h-5zM122 562h5v5h-5zM127 562h6v5h-6zM171 562h6v5h-6zM352 562h5v5h-5zM385 562h5v5h-5zM324 567h6v6h-6zM335 567h6v6h-6zM133 578h5v6h-5zM160 578h6v6h-6zM116 584h6v5h-6zM133 584h5v5h-5zM166 584h5v5h-5zM341 584h5v5h-5zM385 584h5v5h-5zM106 589h5v6h-5zM116 589h6v6h-6zM116 595h6v5h-6zM122 595h5v5h-5zM193 600h6v6h-6zM330 600h5v6h-5zM346 600h6v6h-6zM379 600h6v6h-6zM385 600h5v6h-5zM116 606h6v5h-6zM122 611h5v5h-5zM188 611h5v5h-5zM237 611h5v5h-5zM281 611h5v5h-5zM330 611h5v5h-5zM363 611h5v5h-5zM368 611h6v5h-6z"/>
<path fill="rgb(70, 97, 187)" d="M215 300h5v5h-5zM220 300h6v5h-6zM248 300h5v5h-5zM319 300h5v5h-5zM127 305h6v5h-6zM182 305h6v5h-6zM231 305h6v5h-6zM281 305h5v5h-5zM286 305h6v5h-6zM297 305h5v5h-5zM302 305h6v5h-6zM352 305h5v5h-5zM138 310h6v6h-6zM171 310h6v6h-6zM199 310h5v6h-5zM275 310h6v6h-6zM297 310h5v6h-5zM155 316h5v5h-5zM297 316h5v5h-5zM357 316h6v5h-6zM385 316h5v5h-5zM111 321h5v6h-5zM133 321h5v6h-5zM160 321h6v6h-6zM171 321h6v6h-6zM281 321h5v6h-5zM308 321h5v6h-5zM368 321h6v6h-6zM275 327h6v5h-6zM297 327h5v5h-5zM308 327h5v5h-5zM330 327h5v5h-5zM379 327h6v5h-6zM160 332h6v6h-6zM270 332h5v6h-5zM275 332h6v6h-6zM330 332h5v6h-5zM177 338h5v5h-5zM226 338h5v5h-5zM281 338h5v5h-5zM297 338h5v5h-5zM308 338h5v5h-5zM330 338h5v5h-5zM335 338h6v5h-6zM177 343h5v6h-5zM275 343h6v6h-6zM313 343h6v6h-6zM319 343h5v6h-5zM106 349h5v5h-5zM286 349h6v5h-6zM308 349h5v5h-5zM144 354h5v6h-5zM149 354h6v6h-6zM155 354h5v6h-5zM160 354h6v6h-6zM297 354h5v6h-5zM330 354h5v6h-5zM346 354h6v6h-6zM352 354h5v6h-5zM111 360h5v5h-5zM116 360h6v5h-6zM138 360h6v5h-6zM171 360h6v5h-6zM302 360h6v5h-6zM313 360h6v5h-6zM319 360h5v5h-5zM177 365h5v6h-5zM324 365h6v6h-6zM133 371h5v5h-5zM160 371h6v5h-6zM193 371h6v5h-6zM341 371h5v5h-5zM138 376h6v5h-6zM160 376h6v5h-6zM319 376h5v5h-5zM330 376h5v5h-5zM335 376h6v5h-6zM368 376h6v5h-6zM385 376h5v5h-5zM127 381h6v6h-6zM149 381h6v6h-6zM166 381h5v6h-5zM352 381h5v6h-5zM160 387h6v5h-6zM319 387h5v5h-5zM341 387h5v5h-5zM149 392h6v6h-6zM155 392h5v6h-5zM357 392h6v6h-6zM127 398h6v5h-6zM155 398h5v5h-5zM171 398h6v5h-6zM341 398h5v5h-5zM346 398h6v5h-6zM138 403h6v6h-6zM357 403h6v6h-6zM368 403h6v6h-6zM106 409h5v5h-5zM335 409h6v5h-6zM341 409h5v5h-5zM379 409h6v5h-6zM106 414h5v6h-5zM122 414h5v6h-5zM133 414h5v6h-5zM330 414h5v6h-5zM346 414h6v6h-6zM352 414h5v6h-5zM127 420h6v5h-6zM346 420h6v5h-6zM385 420h5v5h-5zM106 425h5v6h-5zM357 425h6v6h-6zM127 431h6v5h-6zM368 431h6v5h-6zM116 436h6v6h-6zM341 436h5v6h-5zM127 442h6v5h-6zM374 442h5v5h-5zM357 453h6v5h-6zM374 453h5v5h-5zM352 458h5v5h-5zM368 463h6v6h-6zM374 463h5v6h-5zM357 469h6v5h-6zM133 474h5v6h-5zM106 480h5v5h-5zM122 491h5v5h-5zM127 491h6v5h-6zM368 491h6v5h-6zM138 496h6v6h-6zM374 496h5v6h-5zM379 496h6v6h-6zM133 502h5v5h-5zM335 502h6v5h-6zM363 502h5v5h-5zM374 502h5v5h-5zM116 507h6v6h-6zM357 507h6v6h-6zM374 507h5v6h-5zM106 513h5v5h-5zM335 513h6v5h-6zM357 513h6v5h-6zM138 518h6v6h-6zM341 518h5v6h-5zM122 524h5v5h-5zM363 524h5v5h-5zM374 524h5v5h-5zM341 529h5v6h-5zM122 535h5v5h-5zM155 535h5v5h-5zM149 540h6v5h-6zM182 540h6v5h-6zM330 540h5v5h-5zM116 545h6v6h-6zM122 545h5v6h-5zM155 545h5v6h-5zM308 545h5v6h-5zM313 545h6v6h-6zM346 545h6v6h-6zM357 545h6v6h-6zM106 551h5v5h-5zM182 551h6v5h-6zM292 551h5v5h-5zM308 551h5v5h-5zM385 551h5v5h-5zM177 556h5v6h-5zM363 556h5v6h-5zM313 562h6v5h-6zM319 562h5v5h-5zM330 562h5v5h-5zM357 562h6v5h-6zM357 567h6v6h-6zM368 567h6v6h-6zM149 573h6v5h-6zM166 573h5v5h-5zM199 573h5v5h-5zM330 573h5v5h-5zM357 573h6v5h-6zM385 573h5v5h-5zM193 578h6v6h-6zM193 584h6v5h-6zM204 584h5v5h-5zM286 584h6v5h-6zM297 584h5v5h-5zM111 589h5v6h-5zM188 589h5v6h-5zM204 589h5v6h-5zM209 589h6v6h-6zM242 589h6v6h-6zM335 589h6v6h-6zM204 595h5v5h-5zM286 595h6v5h-6zM302 595h6v5h-6zM171 600h6v6h-6zM177 600h5v6h-5zM188 600h5v6h-5zM270 600h5v6h-5zM302 600h6v6h-6zM122 606h5v5h-5zM182 606h6v5h-6zM193 606h6v5h-6zM199 606h5v5h-5zM226 606h5v5h-5zM264 606h6v5h-6zM341 606h5v5h-5zM270 611h5v5h-5zM379 611h6v5h-6z"/>
<path fill="rgb(76, 100, 190)" d="M226 300h5v5h-5zM237 300h5v5h-5zM264 300h6v5h-6zM204 305h5v5h-5zM226 305h5v5h-5zM253 305h6v5h-6zM204 310h5v6h-5zM209 310h6v6h-6zM226 310h5v6h-5zM253 310h6v6h-6zM264 310h6v6h-6zM215 316h5v5h-5zM226 316h5v5h-5zM281 316h5v5h-5zM182 321h6v6h-6zM199 321h5v6h-5zM220 321h6v6h-6zM270 321h5v6h-5zM286 321h6v6h-6zM292 321h5v6h-5zM297 321h5v6h-5zM286 327h6v5h-6zM188 332h5v6h-5zM193 332h6v6h-6zM237 332h5v6h-5zM281 332h5v6h-5zM193 338h6v5h-6zM220 338h6v5h-6zM286 338h6v5h-6zM292 338h5v5h-5zM122 343h5v6h-5zM182 343h6v6h-6zM188 343h5v6h-5zM193 343h6v6h-6zM199 343h5v6h-5zM204 343h5v6h-5zM215 343h5v6h-5zM302 349h6v5h-6zM133 354h5v6h-5zM308 354h5v6h-5zM313 354h6v6h-6zM182 360h6v5h-6zM204 360h5v5h-5zM166 365h5v6h-5zM308 365h5v6h-5zM297 371h5v5h-5zM374 371h5v5h-5zM182 376h6v5h-6zM292 381h5v6h-5zM313 381h6v6h-6zM319 381h5v6h-5zM330 387h5v5h-5zM144 392h5v6h-5zM171 392h6v6h-6zM106 398h5v5h-5zM138 398h6v5h-6zM149 398h6v5h-6zM166 398h5v5h-5zM302 398h6v5h-6zM330 398h5v5h-5zM155 403h5v6h-5zM313 403h6v6h-6zM330 403h5v6h-5zM357 409h6v5h-6zM363 409h5v5h-5zM155 414h5v6h-5zM341 414h5v6h-5zM363 414h5v6h-5zM144 420h5v5h-5zM177 420h5v5h-5zM341 420h5v5h-5zM341 425h5v6h-5zM357 431h6v5h-6zM138 436h6v6h-6zM133 442h5v5h-5zM138 442h6v5h-6zM363 442h5v5h-5zM116 453h6v5h-6zM122 453h5v5h-5zM122 469h5v5h-5zM111 480h5v5h-5zM122 480h5v5h-5zM357 485h6v6h-6zM368 496h6v6h-6zM138 502h6v5h-6zM346 502h6v5h-6zM149 507h6v6h-6zM155 518h5v6h-5zM308 518h5v6h-5zM149 524h6v5h-6zM302 524h6v5h-6zM144 529h5v6h-5zM346 529h6v6h-6zM363 535h5v5h-5zM335 540h6v5h-6zM177 545h5v6h-5zM182 545h6v6h-6zM188 545h5v6h-5zM199 545h5v6h-5zM302 545h6v6h-6zM188 551h5v5h-5zM313 551h6v5h-6zM319 551h5v5h-5zM160 556h6v6h-6zM177 562h5v5h-5zM188 562h5v5h-5zM270 562h5v5h-5zM286 562h6v5h-6zM335 562h6v5h-6zM171 567h6v6h-6zM297 567h5v6h-5zM182 573h6v5h-6zM209 573h6v5h-6zM275 573h6v5h-6zM308 573h5v5h-5zM302 578h6v6h-6zM215 589h5v6h-5zM281 589h5v6h-5zM297 589h5v6h-5zM231 595h6v5h-6zM248 595h5v5h-5zM199 600h5v6h-5zM204 600h5v6h-5zM259 600h5v6h-5zM171 606h6v5h-6zM242 606h6v5h-6zM248 606h5v5h-5zM215 611h5v5h-5zM253 611h6v5h-6z"/>
<path fill="rgb(79, 103, 190)" d="M242 300h6v5h-6zM253 321h6v6h-6zM209 338h6v5h-6zM209 349h6v5h-6zM281 360h5v5h-5zM286 365h6v6h-6zM324 381h6v6h-6zM149 387h6v5h-6zM330 392h5v6h-5zM149 409h6v5h-6zM127 414h6v6h-6zM319 414h5v6h-5zM335 414h6v6h-6zM116 425h6v6h-6zM138 431h6v5h-6zM363 480h5v5h-5zM144 496h5v6h-5zM155 524h5v5h-5zM177 524h5v5h-5zM144 535h5v5h-5zM319 535h5v5h-5zM166 545h5v6h-5zM166 551h5v5h-5zM275 556h6v6h-6zM275 584h6v5h-6zM248 600h5v6h-5zM231 611h6v5h-6z"/>
<path fill="rgb(85, 106, 193)" d="M253 300h6v5h-6zM248 305h5v5h-5zM270 310h5v6h-5zM242 316h6v5h-6zM264 321h6v6h-6zM231 343h6v6h-6zM209 365h6v6h-6zM188 371h5v5h-5zM204 371h5v5h-5zM286 371h6v5h-6zM155 376h5v5h-5zM155 387h5v5h-5zM341 403h5v6h-5zM166 414h5v6h-5zM324 414h6v6h-6zM133 436h5v6h-5zM133 458h5v5h-5zM144 502h5v5h-5zM144 507h5v6h-5zM330 507h5v6h-5zM341 507h5v6h-5zM144 513h5v5h-5zM155 513h5v5h-5zM308 524h5v5h-5zM313 524h6v5h-6zM341 524h5v5h-5zM188 529h5v6h-5zM177 535h5v5h-5zM188 535h5v5h-5zM193 535h6v5h-6zM313 540h6v5h-6zM270 551h5v5h-5zM204 562h5v5h-5zM281 562h5v5h-5zM209 567h6v6h-6zM237 584h5v5h-5z"/>
<path fill="rgb(73, 100, 190)" d="M259 300h5v5h-5zM259 305h5v5h-5zM264 305h6v5h-6zM215 310h5v6h-5zM220 310h6v6h-6zM368 310h6v6h-6zM193 316h6v5h-6zM204 316h5v5h-5zM177 321h5v6h-5zM209 321h6v6h-6zM209 327h6v5h-6zM242 327h6v5h-6zM264 327h6v5h-6zM302 327h6v5h-6zM363 327h5v5h-5zM324 338h6v5h-6zM385 338h5v5h-5zM292 349h5v5h-5zM368 349h6v5h-6zM171 354h6v6h-6zM286 354h6v6h-6zM363 354h5v6h-5zM177 371h5v5h-5zM149 376h6v5h-6zM313 376h6v5h-6zM171 381h6v6h-6zM182 381h6v6h-6zM330 381h5v6h-5zM144 387h5v5h-5zM166 387h5v5h-5zM324 387h6v5h-6zM335 392h6v6h-6zM313 398h6v5h-6zM292 403h5v6h-5zM363 403h5v6h-5zM155 409h5v5h-5zM149 414h6v6h-6zM122 425h5v6h-5zM368 425h6v6h-6zM363 431h5v5h-5zM122 436h5v6h-5zM127 436h6v6h-6zM385 442h5v5h-5zM106 447h5v6h-5zM116 447h6v6h-6zM122 458h5v5h-5zM127 469h6v5h-6zM111 474h5v6h-5zM346 474h6v6h-6zM352 474h5v6h-5zM357 480h6v5h-6zM127 485h6v6h-6zM357 491h6v5h-6zM363 491h5v5h-5zM111 496h5v6h-5zM133 496h5v6h-5zM363 496h5v6h-5zM138 513h6v5h-6zM335 518h6v6h-6zM357 518h6v6h-6zM275 524h6v5h-6zM166 529h5v6h-5zM330 529h5v6h-5zM363 529h5v6h-5zM171 535h6v5h-6zM308 535h5v5h-5zM341 535h5v5h-5zM352 535h5v5h-5zM171 540h6v5h-6zM149 556h6v6h-6zM166 556h5v6h-5zM193 556h6v6h-6zM313 556h6v6h-6zM182 562h6v5h-6zM177 567h5v6h-5zM204 567h5v6h-5zM281 573h5v5h-5zM182 578h6v6h-6zM286 578h6v6h-6zM171 584h6v5h-6zM215 584h5v5h-5zM270 584h5v5h-5zM270 595h5v5h-5zM166 600h5v6h-5zM209 600h6v6h-6zM231 600h6v6h-6zM160 606h6v5h-6zM308 606h5v5h-5zM111 611h5v5h-5zM374 611h5v5h-5z"/>
<path fill="rgb(64, 94, 187)" d="M297 300h5v5h-5zM116 305h6v5h-6zM352 310h5v6h-5zM374 327h5v5h-5zM116 338h6v5h-6zM138 354h6v6h-6zM385 360h5v5h-5zM116 365h6v6h-6zM122 398h5v5h-5zM144 398h5v5h-5zM374 425h5v6h-5zM111 453h5v5h-5zM363 474h5v6h-5zM346 524h6v5h-6zM319 529h5v6h-5zM363 551h5v5h-5zM155 567h5v6h-5zM292 578h5v6h-5zM160 595h6v5h-6z"/>
<path fill="rgb(70, 94, 187)" d="M352 300h5v5h-5zM346 316h6v5h-6zM188 349h5v5h-5zM313 387h6v5h-6zM368 447h6v6h-6zM116 513h6v5h-6zM116 540h6v5h-6zM149 545h6v6h-6zM330 556h5v6h-5zM352 606h5v5h-5z"/>
<path fill="rgb(58, 91, 181)" d="M193 305h6v5h-6zM352 343h5v6h-5zM368 360h6v5h-6zM116 551h6v5h-6zM138 567h6v6h-6zM341 573h5v5h-5zM171 595h6v5h-6zM160 611h6v5h-6zM286 611h6v5h-6z"/>
<path fill="rgb(73, 97, 190)" d="M209 305h6v5h-6zM313 310h6v6h-6zM264 316h6v5h-6zM204 321h5v6h-5zM182 327h6v5h-6zM292 327h5v5h-5zM346 327h6v5h-6zM286 332h6v6h-6zM308 332h5v6h-5zM324 332h6v6h-6zM335 332h6v6h-6zM166 343h5v6h-5zM171 343h6v6h-6zM297 349h5v5h-5zM308 360h5v5h-5zM155 365h5v6h-5zM319 365h5v6h-5zM138 371h6v5h-6zM149 371h6v5h-6zM171 376h6v5h-6zM324 376h6v5h-6zM116 381h6v6h-6zM352 387h5v5h-5zM302 392h6v6h-6zM341 392h5v6h-5zM149 403h6v6h-6zM160 403h6v6h-6zM144 414h5v6h-5zM368 420h6v5h-6zM352 425h5v6h-5zM111 431h5v5h-5zM127 447h6v6h-6zM352 447h5v6h-5zM127 496h6v6h-6zM346 496h6v6h-6zM127 502h6v5h-6zM138 507h6v6h-6zM160 518h6v6h-6zM177 518h5v6h-5zM160 535h6v5h-6zM324 535h6v5h-6zM166 540h5v5h-5zM324 540h6v5h-6zM116 562h6v5h-6zM193 562h6v5h-6zM292 562h5v5h-5zM346 562h6v5h-6zM144 567h5v6h-5zM204 578h5v6h-5zM297 578h5v6h-5zM182 600h6v6h-6zM297 600h5v6h-5zM308 600h5v6h-5zM138 606h6v5h-6zM166 606h5v5h-5zM188 606h5v5h-5z"/>
<path fill="rgb(85, 106, 196)" d="M242 305h6v5h-6zM220 316h6v5h-6zM182 332h6v6h-6zM226 349h5v5h-5zM308 376h5v5h-5zM286 387h6v5h-6zM297 414h5v6h-5zM144 425h5v6h-5zM204 529h5v6h-5zM199 556h5v6h-5zM204 556h5v6h-5zM264 567h6v6h-6z"/>
<path fill="rgb(79, 103, 193)" d="M270 305h5v5h-5zM259 310h5v6h-5zM248 316h5v5h-5zM231 321h6v6h-6zM270 327h5v5h-5zM204 332h5v6h-5zM302 332h6v6h-6zM253 338h6v5h-6zM286 343h6v6h-6zM281 349h5v5h-5zM182 365h6v6h-6zM188 365h5v6h-5zM270 365h5v6h-5zM330 365h5v6h-5zM182 371h6v5h-6zM302 371h6v5h-6zM155 381h5v6h-5zM182 387h6v5h-6zM308 387h5v5h-5zM182 392h6v6h-6zM160 398h6v5h-6zM171 409h6v5h-6zM138 420h6v5h-6zM346 425h6v6h-6zM122 431h5v5h-5zM346 431h6v5h-6zM357 436h6v6h-6zM352 442h5v5h-5zM127 453h6v5h-6zM368 453h6v5h-6zM127 463h6v6h-6zM363 463h5v6h-5zM363 469h5v5h-5zM122 474h5v6h-5zM133 485h5v6h-5zM335 507h6v6h-6zM160 513h6v5h-6zM341 513h5v5h-5zM292 529h5v6h-5zM166 535h5v5h-5zM193 540h6v5h-6zM171 545h6v6h-6zM171 556h6v6h-6zM302 556h6v6h-6zM188 567h5v6h-5zM281 567h5v6h-5zM292 567h5v6h-5zM193 573h6v5h-6zM270 573h5v5h-5zM302 573h6v5h-6zM264 578h6v6h-6zM188 584h5v5h-5zM237 606h5v5h-5z"/>
<path fill="rgb(73, 97, 187)" d="M275 305h6v5h-6zM182 310h6v6h-6zM182 316h6v5h-6zM182 349h6v5h-6zM292 365h5v6h-5zM116 376h6v5h-6zM166 376h5v5h-5zM177 376h5v5h-5zM335 387h6v5h-6zM385 436h5v6h-5zM106 442h5v5h-5zM111 442h5v5h-5zM116 442h6v5h-6zM177 551h5v5h-5zM270 567h5v6h-5zM286 573h6v5h-6zM209 584h6v5h-6zM215 595h5v5h-5zM264 595h6v5h-6zM275 595h6v5h-6zM111 606h5v5h-5zM259 606h5v5h-5zM264 611h6v5h-6zM297 611h5v5h-5z"/>
<path fill="rgb(82, 103, 193)" d="M231 310h6v6h-6zM242 310h6v6h-6zM231 316h6v5h-6zM259 321h5v6h-5zM275 321h6v6h-6zM209 332h6v6h-6zM204 338h5v5h-5zM270 338h5v5h-5zM292 343h5v6h-5zM204 349h5v5h-5zM193 354h6v6h-6zM204 354h5v6h-5zM188 360h5v5h-5zM199 360h5v5h-5zM286 360h6v5h-6zM297 376h5v5h-5zM199 387h5v5h-5zM319 403h5v6h-5zM138 425h6v6h-6zM379 447h6v6h-6zM127 458h6v5h-6zM133 463h5v6h-5zM116 469h6v5h-6zM368 469h6v5h-6zM127 507h6v6h-6zM155 507h5v6h-5zM166 518h5v6h-5zM171 551h6v5h-6zM182 556h6v6h-6zM308 556h5v6h-5zM297 562h5v5h-5zM275 567h6v6h-6zM188 578h5v6h-5zM209 578h6v6h-6zM248 584h5v5h-5zM226 595h5v5h-5zM253 595h6v5h-6zM237 600h5v6h-5z"/>
<path fill="rgb(76, 103, 190)" d="M237 310h5v6h-5zM281 327h5v5h-5zM302 338h6v5h-6zM166 371h5v5h-5zM133 524h5v5h-5zM264 600h6v6h-6z"/>
<path fill="rgb(82, 106, 193)" d="M248 310h5v6h-5zM220 327h6v5h-6zM199 338h5v5h-5zM220 343h6v6h-6zM193 349h6v5h-6zM199 349h5v5h-5zM182 354h6v6h-6zM275 354h6v6h-6zM292 354h5v6h-5zM313 365h6v6h-6zM160 392h6v6h-6zM319 392h5v6h-5zM292 398h5v5h-5zM319 398h5v5h-5zM166 403h5v6h-5zM324 403h6v6h-6zM335 403h6v6h-6zM127 409h6v5h-6zM133 409h5v5h-5zM324 409h6v5h-6zM133 420h5v5h-5zM149 420h6v5h-6zM335 420h6v5h-6zM330 431h5v5h-5zM346 436h6v6h-6zM363 447h5v6h-5zM352 453h5v5h-5zM357 474h6v6h-6zM352 496h5v6h-5zM319 518h5v6h-5zM330 518h5v6h-5zM193 524h6v5h-6zM319 524h5v5h-5zM171 529h6v6h-6zM302 535h6v5h-6zM292 540h5v5h-5zM204 551h5v5h-5zM188 556h5v6h-5zM199 562h5v5h-5zM199 567h5v6h-5zM259 567h5v6h-5zM259 578h5v6h-5zM270 578h5v6h-5zM275 578h6v6h-6zM259 584h5v5h-5zM226 589h5v6h-5zM248 589h5v6h-5zM259 589h5v6h-5zM270 589h5v6h-5zM220 600h6v6h-6zM292 606h5v5h-5z"/>
<path fill="rgb(55, 88, 181)" d="M319 310h5v6h-5zM188 316h5v5h-5zM357 332h6v6h-6zM111 354h5v6h-5zM374 392h5v6h-5zM363 425h5v6h-5zM368 502h6v5h-6zM106 535h5v5h-5zM379 578h6v6h-6zM385 595h5v5h-5zM144 606h5v5h-5zM209 611h6v5h-6z"/>
<path fill="rgb(55, 88, 178)" d="M116 316h6v5h-6zM324 578h6v6h-6zM379 584h6v5h-6z"/>
<path fill="rgb(97, 115, 199)" d="M237 316h5v5h-5zM199 365h5v6h-5zM177 392h5v6h-5zM330 420h5v5h-5zM144 436h5v6h-5zM297 529h5v6h-5zM193 551h6v5h-6zM264 551h6v5h-6zM209 562h6v5h-6z"/>
<path fill="rgb(103, 121, 202)" d="M253 316h6v5h-6zM270 316h5v5h-5zM259 338h5v5h-5zM226 365h5v6h-5zM204 376h5v5h-5zM188 381h5v6h-5zM308 398h5v5h-5zM171 403h6v6h-6zM308 409h5v5h-5zM313 414h6v6h-6zM160 420h6v5h-6zM144 431h5v5h-5zM357 463h6v6h-6zM138 480h6v5h-6zM341 491h5v5h-5zM160 507h6v6h-6zM188 518h5v6h-5zM297 518h5v6h-5zM292 535h5v5h-5zM177 540h5v5h-5zM188 540h5v5h-5zM275 545h6v6h-6zM242 573h6v5h-6z"/>
<path fill="rgb(88, 109, 196)" d="M259 316h5v5h-5zM226 332h5v6h-5zM215 338h5v5h-5zM215 349h5v5h-5zM171 365h6v6h-6zM171 371h6v5h-6zM220 371h6v5h-6zM292 371h5v5h-5zM177 381h5v6h-5zM209 381h6v6h-6zM166 409h5v5h-5zM155 420h5v5h-5zM122 447h5v6h-5zM133 447h5v6h-5zM111 458h5v5h-5zM346 458h6v5h-6zM133 480h5v5h-5zM116 485h6v6h-6zM138 485h6v6h-6zM182 529h6v6h-6zM199 540h5v5h-5zM264 545h6v6h-6zM259 562h5v5h-5zM286 567h6v6h-6zM259 573h5v5h-5zM253 589h6v6h-6zM264 589h6v6h-6zM286 600h6v6h-6zM220 606h6v5h-6zM242 611h6v5h-6z"/>
<path fill="rgb(91, 112, 196)" d="M215 321h5v6h-5zM220 332h6v6h-6zM209 354h6v6h-6zM215 371h5v5h-5zM319 371h5v5h-5zM292 376h5v5h-5zM324 398h6v5h-6zM199 403h5v6h-5zM324 420h6v5h-6zM335 425h6v6h-6zM155 431h5v5h-5zM346 491h6v5h-6zM292 513h5v5h-5zM319 513h5v5h-5zM330 513h5v5h-5zM166 524h5v5h-5zM281 529h5v6h-5zM286 529h6v6h-6zM308 529h5v6h-5zM275 535h6v5h-6zM297 535h5v5h-5zM220 578h6v6h-6zM253 584h6v5h-6zM281 584h5v5h-5zM231 589h6v6h-6zM226 600h5v6h-5zM242 600h6v6h-6z"/>
<path fill="rgb(112, 130, 205)" d="M242 321h6v6h-6zM270 354h5v6h-5zM297 409h5v5h-5zM171 425h6v6h-6zM138 474h6v6h-6zM171 507h6v6h-6zM209 551h6v5h-6z"/>
<path fill="rgb(97, 118, 199)" d="M248 321h5v6h-5zM193 392h6v6h-6zM346 469h6v5h-6zM188 524h5v5h-5zM204 540h5v5h-5zM297 551h5v5h-5zM220 562h6v5h-6z"/>
<path fill="rgb(100, 118, 199)" d="M231 327h6v5h-6zM275 349h6v5h-6zM209 360h6v5h-6zM188 376h5v5h-5zM160 381h6v6h-6zM199 381h5v6h-5zM166 392h5v6h-5zM297 392h5v6h-5zM313 392h6v6h-6zM182 409h6v5h-6zM319 409h5v5h-5zM138 453h6v5h-6zM182 535h6v5h-6zM199 535h5v5h-5zM297 540h5v5h-5zM302 540h6v5h-6zM193 545h6v6h-6zM209 556h6v6h-6z"/>
<path fill="rgb(85, 109, 196)" d="M237 327h5v5h-5zM193 360h6v5h-6zM127 425h6v6h-6zM357 447h6v6h-6zM330 502h5v5h-5zM166 513h5v5h-5zM220 584h6v5h-6zM264 584h6v5h-6zM253 600h6v6h-6z"/>
<path fill="rgb(130, 142, 211)" d="M248 327h5v5h-5zM292 360h5v5h-5zM204 381h5v6h-5zM188 420h5v5h-5zM292 425h5v6h-5zM319 425h5v6h-5zM138 447h6v6h-6zM341 458h5v5h-5zM352 463h5v6h-5zM160 496h6v6h-6zM215 567h5v6h-5zM231 584h6v5h-6z"/>
<path fill="rgb(94, 115, 199)" d="M253 327h6v5h-6zM209 343h6v6h-6zM199 371h5v5h-5zM308 371h5v5h-5zM188 387h5v5h-5zM292 387h5v5h-5zM302 387h6v5h-6zM188 398h5v5h-5zM177 403h5v6h-5zM330 409h5v5h-5zM149 425h6v6h-6zM149 431h6v5h-6zM352 485h5v6h-5zM286 524h6v5h-6zM204 535h5v5h-5zM204 545h5v6h-5z"/>
<path fill="rgb(109, 127, 205)" d="M215 332h5v6h-5zM281 376h5v5h-5zM155 425h5v6h-5zM335 436h6v6h-6zM138 469h6v5h-6zM171 513h6v5h-6z"/>
<path fill="rgb(118, 133, 208)" d="M231 332h6v6h-6zM231 338h6v5h-6zM264 343h6v6h-6zM264 349h6v5h-6zM193 365h6v6h-6zM204 365h5v6h-5zM209 371h6v5h-6zM270 371h5v5h-5zM281 371h5v5h-5zM193 387h6v5h-6zM177 398h5v5h-5zM297 398h5v5h-5zM177 425h5v6h-5zM324 431h6v5h-6zM149 442h6v5h-6zM346 453h6v5h-6zM308 502h5v5h-5zM286 518h6v6h-6zM292 524h5v5h-5zM270 535h5v5h-5zM286 540h6v5h-6zM264 562h6v5h-6zM231 578h6v6h-6zM237 589h5v6h-5z"/>
<path fill="rgb(166, 172, 226)" d="M242 332h6v6h-6zM199 398h5v5h-5z"/>
<path fill="rgb(145, 154, 217)" d="M248 332h5v6h-5zM259 332h5v6h-5zM209 376h6v5h-6zM281 381h5v6h-5zM302 420h6v5h-6zM341 447h5v6h-5zM335 480h6v5h-6zM346 480h6v5h-6zM155 485h5v6h-5zM302 513h6v5h-6zM281 524h5v5h-5zM209 540h6v5h-6zM220 556h6v6h-6z"/>
<path fill="rgb(106, 124, 202)" d="M253 332h6v6h-6zM226 343h5v6h-5zM281 343h5v6h-5zM220 354h6v6h-6zM275 371h6v5h-6zM286 381h6v6h-6zM302 403h6v6h-6zM138 458h6v5h-6zM138 491h6v5h-6zM248 562h5v5h-5zM215 578h5v6h-5z"/>
<path fill="rgb(136, 145, 214)" d="M264 332h6v6h-6zM346 447h6v6h-6zM248 567h5v6h-5z"/>
<path fill="rgb(112, 127, 205)" d="M237 338h5v5h-5zM237 349h5v5h-5zM281 354h5v6h-5zM193 381h6v6h-6zM286 398h6v5h-6zM308 403h5v6h-5zM160 409h6v5h-6zM313 409h6v5h-6zM171 414h6v6h-6zM149 436h6v6h-6zM346 442h6v5h-6zM352 480h5v5h-5zM286 545h6v6h-6z"/>
<path fill="rgb(187, 193, 232)" d="M242 338h6v5h-6z"/>
<path fill="rgb(130, 142, 214)" d="M248 338h5v5h-5z"/>
<path fill="rgb(148, 157, 220)" d="M264 338h6v5h-6zM226 360h5v5h-5zM264 360h6v5h-6zM220 381h6v6h-6zM275 387h6v5h-6zM281 387h5v5h-5zM199 409h5v5h-5zM188 414h5v6h-5zM155 447h5v6h-5zM177 513h5v5h-5zM275 513h6v5h-6zM199 524h5v5h-5zM264 540h6v5h-6zM253 551h6v5h-6zM215 562h5v5h-5zM237 573h5v5h-5zM248 573h5v5h-5zM242 578h6v6h-6zM253 578h6v6h-6z"/>
<path fill="rgb(139, 151, 217)" d="M237 343h5v6h-5zM292 518h5v6h-5z"/>
<path fill="rgb(115, 130, 205)" d="M242 343h6v6h-6zM270 349h5v5h-5zM270 376h5v5h-5zM286 376h6v5h-6zM335 431h6v5h-6zM341 480h5v5h-5zM193 529h6v6h-6zM253 562h6v5h-6z"/>
<path fill="rgb(169, 175, 226)" d="M248 343h5v6h-5zM231 360h6v5h-6zM275 376h6v5h-6zM286 409h6v5h-6zM160 442h6v5h-6zM346 463h6v6h-6zM155 502h5v5h-5zM264 535h6v5h-6zM231 567h6v6h-6z"/>
<path fill="rgb(202, 205, 235)" d="M253 343h6v6h-6zM242 349h6v5h-6zM281 409h5v5h-5zM292 436h5v6h-5zM155 491h5v5h-5zM270 507h5v6h-5zM308 507h5v6h-5z"/>
<path fill="rgb(172, 175, 226)" d="M259 343h5v6h-5zM199 420h5v5h-5zM330 447h5v6h-5z"/>
<path fill="rgb(91, 109, 196)" d="M270 343h5v6h-5zM215 360h5v5h-5zM177 529h5v6h-5zM292 545h5v6h-5z"/>
<path fill="rgb(133, 145, 214)" d="M231 349h6v5h-6zM297 387h5v5h-5zM188 409h5v5h-5zM302 409h6v5h-6zM193 414h6v6h-6zM144 469h5v5h-5zM346 485h6v6h-6zM335 491h6v5h-6zM335 496h6v6h-6zM226 584h5v5h-5z"/>
<path fill="rgb(253, 247, 250)" d="M248 349h5v5h-5zM231 365h6v6h-6zM226 381h5v6h-5zM281 414h5v6h-5zM302 436h6v6h-6zM275 442h6v5h-6zM166 447h5v6h-5zM204 447h5v6h-5zM281 458h5v5h-5zM286 458h6v5h-6zM166 463h5v6h-5zM286 463h6v6h-6zM302 469h6v5h-6zM281 474h5v6h-5zM171 491h6v5h-6zM193 491h6v5h-6zM188 496h5v6h-5zM297 496h5v6h-5zM204 507h5v6h-5zM264 513h6v5h-6z"/>
<path fill="rgb(142, 151, 217)" d="M253 349h6v5h-6zM231 354h6v6h-6zM204 387h5v5h-5zM177 409h5v5h-5zM144 485h5v6h-5zM341 485h5v6h-5zM144 491h5v5h-5zM281 507h5v6h-5zM324 507h6v6h-6zM182 513h6v5h-6zM259 551h5v5h-5zM275 551h6v5h-6z"/>
<path fill="rgb(151, 157, 220)" d="M259 349h5v5h-5zM264 371h6v5h-6zM209 387h6v5h-6zM319 420h5v5h-5zM313 502h6v5h-6z"/>
<path fill="rgb(124, 136, 211)" d="M199 354h5v6h-5zM215 387h5v5h-5z"/>
<path fill="rgb(127, 139, 211)" d="M215 354h5v6h-5zM281 365h5v6h-5zM302 381h6v6h-6zM292 409h5v5h-5zM160 414h6v6h-6zM313 425h6v6h-6zM324 425h6v6h-6zM133 453h5v5h-5zM149 491h6v5h-6zM281 518h5v6h-5zM182 524h6v5h-6zM199 529h5v6h-5zM302 529h6v6h-6zM281 535h5v5h-5zM215 573h5v5h-5zM248 578h5v6h-5z"/>
<path fill="rgb(94, 112, 199)" d="M226 354h5v6h-5zM275 365h6v6h-6zM193 376h6v5h-6zM166 425h5v6h-5zM330 425h5v6h-5zM182 518h6v6h-6zM209 545h6v6h-6zM199 551h5v5h-5zM292 556h5v6h-5zM237 595h5v5h-5z"/>
<path fill="rgb(220, 220, 238)" d="M237 354h5v6h-5zM204 420h5v5h-5zM160 491h6v5h-6zM199 502h5v5h-5zM270 524h5v5h-5zM215 535h5v5h-5z"/>
<path fill="rgb(250, 238, 244)" d="M242 354h6v6h-6zM292 485h5v6h-5z"/>
<path fill="rgb(253, 250, 250)" d="M248 354h5v6h-5zM281 453h5v5h-5zM297 491h5v5h-5zM302 491h6v5h-6z"/>
<path fill="rgb(250, 229, 232)" d="M253 354h6v6h-6zM297 442h5v5h-5zM286 447h6v6h-6zM193 453h6v5h-6zM204 453h5v5h-5zM204 458h5v5h-5zM297 458h5v5h-5zM188 474h5v6h-5zM242 545h6v6h-6z"/>
<path fill="rgb(226, 226, 241)" d="M259 354h5v6h-5zM275 392h6v6h-6zM275 420h6v5h-6zM335 447h6v6h-6zM324 453h6v5h-6zM330 469h5v5h-5zM155 474h5v6h-5zM160 474h6v6h-6zM242 556h6v6h-6z"/>
<path fill="rgb(127, 142, 211)" d="M264 354h6v6h-6zM166 507h5v6h-5zM286 535h6v5h-6z"/>
<path fill="rgb(151, 160, 220)" d="M220 360h6v5h-6zM275 381h6v6h-6zM160 425h6v6h-6zM324 436h6v6h-6zM149 458h6v5h-6zM149 469h6v5h-6zM160 502h6v5h-6zM297 513h5v5h-5z"/>
<path fill="rgb(232, 232, 244)" d="M237 360h5v5h-5zM220 387h6v5h-6zM319 447h5v6h-5zM160 485h6v6h-6zM188 485h5v6h-5zM308 491h5v5h-5zM281 502h5v5h-5zM270 513h5v5h-5zM215 529h5v6h-5zM215 540h5v5h-5zM242 562h6v5h-6z"/>
<path fill="rgb(250, 238, 241)" d="M242 360h6v5h-6zM253 360h6v5h-6zM209 403h6v6h-6zM270 409h5v5h-5zM171 436h6v6h-6zM199 442h5v5h-5zM308 442h5v5h-5zM171 447h6v6h-6zM324 447h6v6h-6zM297 453h5v5h-5zM188 463h5v6h-5zM193 463h6v6h-6zM204 463h5v6h-5zM302 463h6v6h-6zM313 463h6v6h-6zM171 480h6v5h-6zM188 480h5v5h-5zM319 480h5v5h-5zM182 491h6v5h-6zM275 496h6v6h-6z"/>
<path fill="rgb(250, 235, 241)" d="M248 360h5v5h-5zM319 442h5v5h-5zM177 458h5v5h-5zM319 458h5v5h-5zM275 463h6v6h-6zM226 551h5v5h-5z"/>
<path fill="rgb(235, 232, 244)" d="M259 360h5v5h-5zM302 502h6v5h-6zM220 551h6v5h-6z"/>
<path fill="rgb(121, 136, 208)" d="M270 360h5v5h-5zM204 392h5v6h-5zM286 392h6v6h-6zM193 403h6v6h-6zM341 474h5v6h-5zM275 540h6v5h-6zM215 545h5v6h-5z"/>
<path fill="rgb(145, 154, 220)" d="M275 360h6v5h-6zM182 420h6v5h-6z"/>
<path fill="rgb(109, 124, 205)" d="M215 365h5v6h-5zM297 403h5v6h-5zM149 496h6v6h-6zM313 518h6v6h-6zM270 540h5v5h-5zM204 573h5v5h-5z"/>
<path fill="rgb(124, 136, 208)" d="M220 365h6v6h-6z"/>
<path fill="rgb(250, 220, 226)" d="M237 365h5v6h-5zM253 365h6v6h-6zM231 376h6v5h-6zM264 381h6v6h-6zM264 387h6v5h-6zM188 447h5v6h-5zM188 458h5v5h-5zM275 458h6v5h-6zM292 463h5v6h-5zM286 469h6v5h-6zM308 469h5v5h-5zM204 491h5v5h-5zM253 529h6v6h-6z"/>
<path fill="rgb(250, 229, 235)" d="M242 365h6v6h-6zM193 436h6v6h-6zM209 436h6v6h-6zM313 442h6v5h-6zM166 458h5v5h-5zM182 458h6v5h-6zM308 463h5v6h-5zM292 480h5v5h-5zM188 491h5v5h-5zM209 502h6v5h-6z"/>
<path fill="rgb(247, 199, 208)" d="M248 365h5v6h-5zM259 376h5v5h-5zM226 387h5v5h-5zM231 545h6v6h-6z"/>
<path fill="rgb(250, 241, 244)" d="M259 365h5v6h-5zM231 371h6v5h-6zM215 392h5v6h-5zM177 436h5v6h-5zM286 436h6v6h-6zM182 442h6v5h-6zM292 442h5v5h-5zM292 447h5v6h-5zM160 453h6v5h-6zM319 453h5v5h-5zM155 458h5v5h-5zM324 458h6v5h-6zM182 463h6v6h-6zM292 469h5v5h-5zM297 469h5v5h-5zM335 469h6v5h-6zM204 474h5v6h-5zM292 474h5v6h-5zM160 480h6v5h-6zM177 480h5v5h-5zM182 480h6v5h-6zM275 480h6v5h-6zM171 485h6v6h-6zM286 485h6v6h-6zM313 485h6v6h-6zM270 496h5v6h-5zM220 545h6v6h-6zM237 556h5v6h-5z"/>
<path fill="rgb(184, 190, 229)" d="M264 365h6v6h-6zM297 420h5v5h-5zM330 442h5v5h-5zM319 502h5v5h-5z"/>
<path fill="rgb(199, 202, 235)" d="M226 371h5v5h-5zM220 392h6v6h-6zM193 420h6v5h-6zM166 431h5v5h-5zM292 502h5v5h-5z"/>
<path fill="rgb(247, 211, 217)" d="M237 371h5v5h-5zM220 398h6v5h-6zM302 453h6v5h-6z"/>
<path fill="rgb(247, 184, 193)" d="M242 371h6v5h-6zM209 469h6v5h-6zM209 491h6v5h-6zM259 507h5v6h-5zM242 540h6v5h-6z"/>
<path fill="rgb(247, 193, 199)" d="M248 371h5v5h-5zM264 392h6v6h-6zM220 403h6v6h-6z"/>
<path fill="rgb(247, 205, 211)" d="M253 371h6v5h-6zM270 414h5v6h-5zM215 420h5v5h-5zM177 469h5v5h-5z"/>
<path fill="rgb(250, 223, 226)" d="M259 371h5v5h-5zM166 453h5v5h-5zM199 463h5v6h-5z"/>
<path fill="rgb(52, 85, 178)" d="M133 376h5v5h-5zM368 518h6v6h-6z"/>
<path fill="rgb(100, 118, 202)" d="M199 376h5v5h-5zM324 513h6v5h-6zM193 518h6v6h-6z"/>
<path fill="rgb(154, 163, 220)" d="M215 376h5v5h-5zM341 463h5v6h-5zM319 507h5v6h-5zM286 513h6v5h-6zM215 556h5v6h-5z"/>
<path fill="rgb(172, 178, 226)" d="M220 376h6v5h-6zM275 398h6v5h-6zM319 436h5v6h-5zM264 524h6v5h-6zM259 540h5v5h-5zM259 545h5v6h-5z"/>
<path fill="rgb(241, 241, 247)" d="M226 376h5v5h-5zM292 453h5v5h-5zM324 469h6v5h-6zM177 474h5v6h-5zM302 480h6v5h-6zM166 485h5v6h-5zM182 485h6v6h-6z"/>
<path fill="rgb(247, 196, 205)" d="M237 376h5v5h-5zM231 381h6v6h-6z"/>
<path fill="rgb(244, 160, 172)" d="M242 376h6v5h-6zM259 387h5v5h-5zM215 431h5v5h-5zM270 442h5v5h-5zM253 518h6v6h-6zM226 529h5v6h-5z"/>
<path fill="rgb(244, 169, 178)" d="M248 376h5v5h-5zM237 381h5v6h-5zM253 381h6v6h-6zM215 507h5v6h-5z"/>
<path fill="rgb(247, 193, 202)" d="M253 376h6v5h-6zM248 535h5v5h-5z"/>
<path fill="rgb(244, 244, 250)" d="M264 376h6v5h-6zM204 436h5v6h-5zM335 463h6v6h-6zM319 474h5v6h-5zM237 562h5v5h-5z"/>
<path fill="rgb(193, 196, 232)" d="M215 381h5v6h-5zM275 403h6v6h-6zM182 431h6v5h-6zM166 436h5v6h-5zM335 474h6v6h-6zM177 496h5v6h-5zM292 507h5v6h-5zM242 584h6v5h-6z"/>
<path fill="rgb(244, 142, 154)" d="M242 381h6v6h-6zM264 414h6v6h-6zM215 436h5v6h-5zM231 529h6v6h-6z"/>
<path fill="rgb(244, 151, 163)" d="M248 381h5v6h-5zM270 447h5v6h-5zM215 502h5v5h-5zM248 524h5v5h-5zM231 535h6v5h-6z"/>
<path fill="rgb(247, 187, 196)" d="M259 381h5v6h-5zM264 398h6v5h-6zM209 474h6v6h-6zM270 474h5v6h-5zM259 513h5v5h-5z"/>
<path fill="rgb(196, 199, 232)" d="M270 381h5v6h-5zM281 442h5v5h-5zM155 469h5v5h-5zM160 469h6v5h-6zM199 507h5v6h-5zM209 518h6v6h-6zM275 518h6v6h-6zM204 524h5v5h-5z"/>
<path fill="rgb(142, 154, 217)" d="M297 381h5v6h-5zM302 507h6v6h-6z"/>
<path fill="rgb(124, 139, 211)" d="M177 387h5v5h-5zM281 392h5v6h-5zM193 398h6v5h-6zM204 398h5v5h-5zM286 403h6v6h-6zM171 420h6v5h-6zM144 442h5v5h-5zM193 513h6v5h-6zM281 540h5v5h-5zM270 545h5v6h-5zM281 545h5v6h-5zM215 551h5v5h-5zM253 567h6v6h-6zM253 573h6v5h-6z"/>
<path fill="rgb(247, 184, 196)" d="M231 387h6v5h-6zM215 513h5v5h-5zM253 524h6v5h-6z"/>
<path fill="rgb(241, 133, 145)" d="M237 387h5v5h-5zM259 398h5v5h-5zM226 403h5v6h-5zM248 518h5v6h-5z"/>
<path fill="rgb(241, 124, 139)" d="M242 387h6v5h-6zM226 409h5v5h-5zM215 442h5v5h-5zM226 518h5v6h-5zM242 524h6v5h-6z"/>
<path fill="rgb(241, 124, 136)" d="M248 387h5v5h-5zM215 463h5v6h-5z"/>
<path fill="rgb(244, 139, 151)" d="M253 387h6v5h-6zM231 398h6v5h-6z"/>
<path fill="rgb(238, 238, 247)" d="M270 387h5v5h-5zM270 398h5v5h-5zM215 409h5v5h-5zM160 458h6v5h-6zM177 485h5v6h-5zM177 491h5v5h-5z"/>
<path fill="rgb(163, 169, 223)" d="M188 392h5v6h-5zM182 403h6v6h-6zM144 447h5v6h-5zM199 518h5v6h-5zM275 529h6v6h-6z"/>
<path fill="rgb(160, 166, 223)" d="M199 392h5v6h-5zM215 403h5v6h-5zM155 463h5v6h-5zM155 496h5v6h-5zM166 496h5v6h-5zM220 567h6v6h-6z"/>
<path fill="rgb(202, 202, 235)" d="M209 392h6v6h-6zM297 425h5v6h-5zM324 442h6v5h-6z"/>
<path fill="rgb(247, 190, 199)" d="M226 392h5v6h-5zM220 409h6v5h-6zM209 458h6v5h-6zM264 496h6v6h-6zM237 545h5v6h-5z"/>
<path fill="rgb(241, 139, 151)" d="M231 392h6v6h-6zM220 420h6v5h-6zM220 507h6v6h-6z"/>
<path fill="rgb(241, 115, 130)" d="M237 392h5v6h-5zM259 403h5v6h-5zM215 491h5v5h-5z"/>
<path fill="rgb(241, 109, 124)" d="M242 392h6v6h-6zM215 480h5v5h-5zM226 513h5v5h-5z"/>
<path fill="rgb(238, 88, 103)" d="M248 392h5v6h-5zM248 398h5v5h-5zM226 414h5v6h-5zM226 420h5v5h-5zM259 420h5v5h-5zM264 458h6v5h-6zM253 502h6v5h-6z"/>
<path fill="rgb(241, 121, 136)" d="M253 392h6v6h-6z"/>
<path fill="rgb(244, 169, 181)" d="M259 392h5v6h-5zM231 540h6v5h-6z"/>
<path fill="rgb(175, 181, 226)" d="M270 392h5v6h-5zM281 431h5v5h-5zM313 496h6v6h-6zM330 496h5v6h-5zM171 502h6v5h-6zM177 502h5v5h-5zM313 507h6v6h-6z"/>
<path fill="rgb(136, 148, 214)" d="M292 392h5v6h-5zM281 398h5v5h-5zM166 420h5v5h-5zM308 420h5v5h-5zM302 425h6v6h-6zM335 442h6v5h-6zM144 480h5v5h-5zM308 513h5v5h-5zM302 518h6v6h-6zM253 556h6v6h-6z"/>
<path fill="rgb(109, 124, 202)" d="M182 398h6v5h-6zM133 431h5v5h-5zM171 518h6v6h-6zM264 556h6v6h-6z"/>
<path fill="rgb(184, 187, 229)" d="M209 398h6v5h-6zM160 431h6v5h-6zM302 431h6v5h-6zM155 453h5v5h-5zM188 513h5v5h-5z"/>
<path fill="rgb(235, 235, 247)" d="M215 398h5v5h-5z"/>
<path fill="rgb(244, 166, 175)" d="M226 398h5v5h-5zM237 535h5v5h-5z"/>
<path fill="rgb(238, 85, 100)" d="M237 398h5v5h-5zM242 398h6v5h-6zM242 403h6v6h-6zM253 403h6v6h-6zM231 409h6v5h-6zM259 414h5v6h-5zM226 507h5v6h-5zM248 507h5v6h-5zM231 513h6v5h-6z"/>
<path fill="rgb(241, 103, 118)" d="M253 398h6v5h-6zM264 463h6v6h-6zM264 474h6v6h-6z"/>
<path fill="rgb(208, 208, 235)" d="M204 403h5v6h-5zM193 442h6v5h-6zM149 463h6v6h-6z"/>
<path fill="rgb(238, 97, 112)" d="M231 403h6v6h-6zM220 425h6v6h-6z"/>
<path fill="rgb(238, 76, 91)" d="M237 403h5v6h-5zM253 409h6v5h-6zM220 436h6v6h-6zM220 463h6v6h-6zM220 474h6v6h-6zM220 480h6v5h-6z"/>
<path fill="rgb(238, 70, 85)" d="M248 403h5v6h-5zM231 414h6v6h-6zM231 420h6v5h-6zM220 453h6v5h-6zM220 458h6v5h-6zM248 502h5v5h-5zM237 507h5v6h-5z"/>
<path fill="rgb(244, 172, 184)" d="M264 403h6v6h-6zM270 458h5v5h-5zM209 463h6v6h-6zM270 469h5v5h-5zM248 529h5v6h-5z"/>
<path fill="rgb(250, 223, 229)" d="M270 403h5v6h-5zM193 447h6v6h-6zM297 447h5v6h-5zM302 458h6v5h-6zM171 463h6v6h-6zM275 469h6v5h-6z"/>
<path fill="rgb(181, 184, 229)" d="M281 403h5v6h-5zM302 414h6v6h-6zM188 507h5v6h-5zM204 518h5v6h-5zM209 529h6v6h-6zM220 573h6v5h-6z"/>
<path fill="rgb(139, 148, 217)" d="M193 409h6v5h-6z"/>
<path fill="rgb(199, 199, 232)" d="M204 409h5v5h-5z"/>
<path fill="rgb(190, 193, 232)" d="M209 409h6v5h-6zM199 414h5v6h-5zM286 414h6v6h-6zM160 447h6v6h-6zM193 502h6v5h-6zM182 507h6v6h-6zM281 513h5v5h-5z"/>
<path fill="rgb(238, 67, 82)" d="M237 409h5v5h-5zM253 414h6v6h-6zM253 420h6v5h-6zM259 442h5v5h-5zM259 474h5v6h-5zM242 513h6v5h-6z"/>
<path fill="rgb(235, 61, 76)" d="M242 409h6v5h-6zM248 409h5v5h-5zM248 414h5v6h-5zM226 496h5v6h-5zM231 496h6v6h-6zM231 502h6v5h-6zM237 502h5v5h-5z"/>
<path fill="rgb(241, 106, 121)" d="M259 409h5v5h-5zM264 436h6v6h-6zM215 458h5v5h-5z"/>
<path fill="rgb(244, 157, 169)" d="M264 409h6v5h-6zM264 480h6v5h-6zM242 529h6v6h-6z"/>
<path fill="rgb(214, 217, 238)" d="M275 409h6v5h-6zM193 425h6v6h-6zM242 567h6v6h-6z"/>
<path fill="rgb(187, 190, 229)" d="M177 414h5v6h-5zM341 469h5v5h-5z"/>
<path fill="rgb(166, 172, 223)" d="M182 414h6v6h-6zM188 425h5v6h-5zM155 436h5v6h-5zM313 436h6v6h-6zM341 453h5v5h-5zM166 502h5v5h-5zM248 556h5v6h-5zM226 578h5v6h-5z"/>
<path fill="rgb(247, 247, 250)" d="M204 414h5v6h-5zM199 436h5v6h-5zM199 447h5v6h-5zM313 491h6v5h-6zM182 502h6v5h-6zM209 513h6v5h-6z"/>
<path fill="rgb(241, 238, 247)" d="M209 414h6v6h-6zM281 463h5v6h-5zM330 463h5v6h-5zM237 567h5v6h-5z"/>
<path fill="rgb(247, 202, 208)" d="M215 414h5v6h-5zM204 480h5v5h-5zM226 540h5v5h-5z"/>
<path fill="rgb(244, 148, 160)" d="M220 414h6v6h-6zM264 485h6v6h-6zM259 502h5v5h-5zM220 518h6v6h-6z"/>
<path fill="rgb(235, 55, 70)" d="M237 414h5v6h-5zM226 436h5v6h-5zM226 453h5v5h-5zM226 480h5v5h-5zM253 480h6v5h-6zM248 496h5v6h-5z"/>
<path fill="rgb(235, 52, 67)" d="M242 414h6v6h-6zM253 425h6v6h-6zM226 458h5v5h-5zM226 474h5v6h-5zM231 491h6v5h-6zM237 496h5v6h-5z"/>
<path fill="rgb(247, 244, 250)" d="M275 414h6v6h-6zM281 425h5v6h-5zM171 458h6v5h-6zM160 463h6v6h-6zM166 491h5v5h-5zM231 556h6v6h-6z"/>
<path fill="rgb(154, 160, 220)" d="M292 414h5v6h-5zM144 453h5v5h-5zM297 507h5v6h-5zM259 556h5v6h-5z"/>
<path fill="rgb(115, 130, 208)" d="M308 414h5v6h-5zM144 474h5v6h-5zM297 545h5v6h-5z"/>
<path fill="rgb(250, 235, 238)" d="M209 420h6v5h-6zM297 463h5v6h-5zM171 469h6v5h-6zM182 469h6v5h-6zM188 469h5v5h-5zM166 474h5v6h-5zM302 474h6v6h-6zM166 480h5v5h-5zM193 480h6v5h-6zM281 480h5v5h-5zM204 485h5v6h-5zM308 485h5v6h-5zM264 507h6v6h-6zM231 551h6v5h-6z"/>
<path fill="rgb(235, 58, 70)" d="M237 420h5v5h-5zM259 463h5v6h-5zM253 485h6v6h-6z"/>
<path fill="rgb(235, 49, 64)" d="M242 420h6v5h-6zM237 425h5v6h-5zM253 442h6v5h-6zM231 474h6v6h-6zM248 474h5v6h-5zM242 491h6v5h-6z"/>
<path fill="rgb(235, 55, 67)" d="M248 420h5v5h-5zM231 425h6v6h-6zM253 431h6v5h-6zM253 474h6v6h-6zM248 491h5v5h-5zM242 496h6v6h-6z"/>
<path fill="rgb(241, 118, 130)" d="M264 420h6v5h-6zM242 518h6v6h-6z"/>
<path fill="rgb(247, 199, 205)" d="M270 420h5v5h-5z"/>
<path fill="rgb(220, 220, 241)" d="M281 420h5v5h-5zM270 518h5v6h-5zM226 556h5v6h-5z"/>
<path fill="rgb(229, 229, 244)" d="M286 420h6v5h-6zM292 420h5v5h-5zM177 431h5v5h-5zM160 436h6v6h-6zM302 442h6v5h-6zM149 453h6v5h-6zM319 491h5v5h-5zM308 496h5v6h-5zM226 562h5v5h-5zM231 573h6v5h-6z"/>
<path fill="rgb(178, 184, 229)" d="M313 420h6v5h-6zM149 447h6v6h-6zM335 485h6v6h-6zM275 502h6v5h-6zM297 502h5v5h-5zM275 507h6v6h-6zM248 551h5v5h-5z"/>
<path fill="rgb(157, 163, 223)" d="M182 425h6v6h-6zM330 436h5v6h-5zM144 463h5v6h-5zM209 535h6v5h-6z"/>
<path fill="rgb(223, 223, 241)" d="M199 425h5v6h-5zM275 425h6v6h-6zM308 431h5v5h-5zM313 431h6v5h-6zM319 431h5v5h-5zM281 496h5v6h-5zM188 502h5v5h-5z"/>
<path fill="rgb(229, 226, 241)" d="M204 425h5v6h-5z"/>
<path fill="rgb(244, 241, 247)" d="M209 425h6v6h-6zM199 474h5v6h-5zM275 491h6v5h-6zM286 496h6v6h-6z"/>
<path fill="rgb(247, 181, 190)" d="M215 425h5v6h-5zM209 480h6v5h-6z"/>
<path fill="rgb(238, 67, 79)" d="M226 425h5v6h-5zM259 425h5v6h-5z"/>
<path fill="rgb(235, 43, 58)" d="M242 425h6v6h-6zM242 431h6v5h-6zM237 436h5v6h-5zM248 447h5v6h-5zM231 458h6v5h-6zM248 458h5v5h-5zM237 480h5v5h-5zM248 480h5v5h-5z"/>
<path fill="rgb(235, 52, 64)" d="M248 425h5v6h-5zM231 431h6v5h-6zM226 442h5v5h-5zM226 447h5v6h-5zM253 458h6v5h-6zM253 463h6v6h-6zM231 485h6v6h-6zM248 485h5v6h-5zM237 491h5v5h-5z"/>
<path fill="rgb(241, 115, 127)" d="M264 425h6v6h-6zM215 469h5v5h-5zM259 496h5v6h-5zM220 502h6v5h-6z"/>
<path fill="rgb(244, 175, 184)" d="M270 425h5v6h-5zM270 431h5v5h-5z"/>
<path fill="rgb(211, 211, 238)" d="M286 425h6v6h-6zM330 480h5v5h-5zM209 524h6v5h-6z"/>
<path fill="rgb(205, 208, 235)" d="M308 425h5v6h-5zM149 480h6v5h-6zM292 496h5v6h-5zM259 535h5v5h-5zM253 545h6v6h-6z"/>
<path fill="rgb(238, 235, 247)" d="M171 431h6v5h-6zM259 529h5v6h-5zM231 562h6v5h-6z"/>
<path fill="rgb(160, 169, 223)" d="M188 431h5v5h-5zM166 442h5v5h-5z"/>
<path fill="rgb(208, 211, 235)" d="M193 431h6v5h-6z"/>
<path fill="rgb(217, 217, 238)" d="M199 431h5v5h-5zM204 431h5v5h-5zM313 480h6v5h-6zM324 491h6v5h-6zM226 567h5v6h-5z"/>
<path fill="rgb(250, 226, 232)" d="M209 431h6v5h-6zM199 458h5v5h-5zM286 480h6v5h-6zM193 485h6v6h-6zM319 485h5v6h-5zM259 524h5v5h-5zM248 540h5v5h-5zM242 551h6v5h-6z"/>
<path fill="rgb(238, 94, 109)" d="M220 431h6v5h-6zM264 442h6v5h-6zM220 496h6v6h-6zM231 518h6v6h-6zM237 524h5v5h-5z"/>
<path fill="rgb(235, 61, 73)" d="M226 431h5v5h-5zM259 447h5v6h-5zM259 458h5v5h-5zM226 491h5v5h-5z"/>
<path fill="rgb(235, 46, 61)" d="M237 431h5v5h-5zM231 436h6v6h-6zM231 442h6v5h-6zM248 442h5v5h-5zM231 447h6v6h-6zM253 447h6v6h-6zM253 453h6v5h-6zM226 463h5v6h-5zM231 480h6v5h-6zM242 480h6v5h-6zM242 485h6v6h-6z"/>
<path fill="rgb(235, 46, 58)" d="M248 431h5v5h-5zM237 458h5v5h-5zM248 469h5v5h-5zM237 485h5v6h-5z"/>
<path fill="rgb(238, 76, 88)" d="M259 431h5v5h-5z"/>
<path fill="rgb(238, 91, 106)" d="M264 431h6v5h-6zM264 447h6v6h-6zM264 453h6v5h-6zM259 485h5v6h-5zM237 518h5v6h-5z"/>
<path fill="rgb(250, 232, 238)" d="M275 431h6v5h-6zM275 447h6v6h-6zM308 447h5v6h-5zM286 453h6v5h-6zM313 474h6v6h-6zM199 480h5v5h-5z"/>
<path fill="rgb(214, 214, 238)" d="M286 431h6v5h-6zM308 436h5v6h-5zM149 474h6v6h-6zM155 480h5v5h-5zM149 485h6v6h-6zM319 496h5v6h-5zM324 496h6v6h-6zM264 529h6v6h-6z"/>
<path fill="rgb(217, 220, 238)" d="M292 431h5v5h-5z"/>
<path fill="rgb(154, 163, 223)" d="M297 431h5v5h-5zM335 453h6v5h-6z"/>
<path fill="rgb(106, 121, 202)" d="M341 431h5v5h-5zM144 458h5v5h-5zM341 502h5v5h-5zM281 551h5v5h-5zM270 556h5v6h-5z"/>
<path fill="rgb(253, 244, 247)" d="M182 436h6v6h-6zM188 436h5v6h-5zM281 436h5v6h-5zM171 442h6v5h-6zM182 453h6v5h-6zM275 474h6v6h-6zM297 485h5v6h-5zM209 507h6v6h-6zM215 524h5v5h-5z"/>
<path fill="rgb(235, 43, 55)" d="M242 436h6v6h-6zM231 463h6v6h-6zM237 474h5v6h-5z"/>
<path fill="rgb(235, 49, 61)" d="M248 436h5v6h-5zM253 436h6v6h-6zM226 469h5v5h-5zM253 469h6v5h-6z"/>
<path fill="rgb(235, 64, 79)" d="M259 436h5v6h-5z"/>
<path fill="rgb(244, 175, 187)" d="M270 436h5v6h-5zM209 453h6v5h-6z"/>
<path fill="rgb(253, 250, 253)" d="M275 436h6v6h-6zM313 447h6v6h-6zM330 474h5v6h-5z"/>
<path fill="rgb(253, 247, 247)" d="M297 436h5v6h-5zM177 453h5v5h-5zM193 458h6v5h-6zM319 469h5v5h-5zM248 545h5v6h-5z"/>
<path fill="rgb(148, 154, 220)" d="M155 442h5v5h-5z"/>
<path fill="rgb(250, 232, 235)" d="M177 442h5v5h-5zM204 442h5v5h-5zM286 442h6v5h-6zM275 453h6v5h-6zM308 453h5v5h-5zM166 469h5v5h-5zM199 469h5v5h-5zM204 469h5v5h-5zM297 474h5v6h-5zM324 474h6v6h-6zM297 480h5v5h-5zM199 485h5v6h-5zM253 535h6v5h-6z"/>
<path fill="rgb(250, 247, 250)" d="M188 442h5v5h-5zM302 447h6v6h-6zM171 453h6v5h-6zM313 453h6v5h-6zM177 463h5v6h-5zM193 496h6v6h-6zM204 496h5v6h-5zM253 540h6v5h-6z"/>
<path fill="rgb(247, 202, 211)" d="M209 442h6v5h-6zM270 480h5v5h-5zM264 502h6v5h-6zM220 529h6v6h-6z"/>
<path fill="rgb(238, 70, 82)" d="M220 442h6v5h-6z"/>
<path fill="rgb(235, 40, 52)" d="M237 442h5v5h-5zM242 442h6v5h-6zM237 447h5v6h-5zM242 453h6v5h-6zM242 458h6v5h-6zM242 463h6v6h-6z"/>
<path fill="rgb(139, 148, 214)" d="M341 442h5v5h-5zM330 485h5v6h-5zM330 491h5v5h-5z"/>
<path fill="rgb(247, 208, 217)" d="M177 447h5v6h-5zM270 491h5v5h-5zM220 540h6v5h-6z"/>
<path fill="rgb(250, 244, 247)" d="M182 447h6v6h-6zM281 447h5v6h-5zM319 463h5v6h-5zM324 463h6v6h-6zM281 469h5v5h-5zM286 474h6v6h-6zM308 480h5v5h-5zM275 485h6v6h-6zM281 485h5v6h-5zM324 485h6v6h-6zM281 491h5v5h-5zM286 491h6v5h-6zM292 491h5v5h-5zM302 496h6v6h-6z"/>
<path fill="rgb(247, 196, 202)" d="M209 447h6v6h-6z"/>
<path fill="rgb(241, 127, 142)" d="M215 447h5v6h-5zM215 485h5v6h-5z"/>
<path fill="rgb(238, 73, 88)" d="M220 447h6v6h-6zM259 469h5v5h-5zM259 480h5v5h-5zM226 502h5v5h-5zM231 507h6v6h-6zM242 507h6v6h-6z"/>
<path fill="rgb(235, 40, 55)" d="M242 447h6v6h-6zM231 453h6v5h-6zM237 453h5v5h-5zM248 453h5v5h-5zM248 463h5v6h-5zM231 469h6v5h-6zM237 469h5v5h-5zM242 469h6v5h-6zM242 474h6v6h-6z"/>
<path fill="rgb(244, 241, 250)" d="M188 453h5v5h-5zM199 453h5v5h-5zM182 496h6v6h-6zM193 507h6v6h-6zM264 518h6v6h-6z"/>
<path fill="rgb(241, 130, 145)" d="M215 453h5v5h-5z"/>
<path fill="rgb(235, 58, 73)" d="M259 453h5v5h-5zM220 469h6v5h-6zM226 485h5v6h-5zM242 502h6v5h-6z"/>
<path fill="rgb(244, 172, 181)" d="M270 453h5v5h-5zM237 540h5v5h-5z"/>
<path fill="rgb(163, 172, 223)" d="M330 453h5v5h-5zM286 507h6v6h-6z"/>
<path fill="rgb(250, 217, 223)" d="M292 458h5v5h-5zM193 469h6v5h-6zM209 485h6v6h-6zM270 485h5v6h-5zM199 491h5v5h-5zM215 518h5v6h-5zM237 551h5v5h-5z"/>
<path fill="rgb(250, 244, 244)" d="M308 458h5v5h-5z"/>
<path fill="rgb(250, 226, 229)" d="M313 458h6v5h-6zM171 474h6v6h-6zM193 474h6v6h-6z"/>
<path fill="rgb(235, 235, 244)" d="M330 458h5v5h-5zM335 458h6v5h-6zM171 496h6v6h-6zM204 502h5v5h-5zM286 502h6v5h-6zM204 513h5v5h-5z"/>
<path fill="rgb(94, 112, 196)" d="M357 458h6v5h-6zM149 502h6v5h-6zM281 556h5v6h-5zM253 606h6v5h-6z"/>
<path fill="rgb(115, 133, 208)" d="M138 463h6v6h-6zM297 524h5v5h-5z"/>
<path fill="rgb(235, 37, 52)" d="M237 463h5v6h-5z"/>
<path fill="rgb(244, 166, 178)" d="M270 463h5v6h-5zM226 535h5v5h-5zM242 535h6v5h-6z"/>
<path fill="rgb(241, 103, 115)" d="M264 469h6v5h-6z"/>
<path fill="rgb(250, 214, 223)" d="M313 469h6v5h-6zM209 496h6v6h-6z"/>
<path fill="rgb(247, 211, 220)" d="M182 474h6v6h-6z"/>
<path fill="rgb(238, 100, 115)" d="M215 474h5v6h-5z"/>
<path fill="rgb(250, 214, 220)" d="M308 474h5v6h-5zM302 485h6v6h-6zM226 545h5v6h-5z"/>
<path fill="rgb(250, 250, 250)" d="M324 480h6v5h-6z"/>
<path fill="rgb(238, 82, 94)" d="M220 485h6v6h-6z"/>
<path fill="rgb(238, 79, 94)" d="M220 491h6v5h-6z"/>
<path fill="rgb(238, 64, 79)" d="M253 491h6v5h-6z"/>
<path fill="rgb(241, 118, 133)" d="M259 491h5v5h-5zM253 507h6v6h-6zM253 513h6v5h-6z"/>
<path fill="rgb(244, 145, 157)" d="M264 491h6v5h-6zM215 496h5v6h-5z"/>
<path fill="rgb(232, 229, 244)" d="M199 496h5v6h-5z"/>
<path fill="rgb(238, 82, 97)" d="M253 496h6v6h-6zM237 513h5v5h-5z"/>
<path fill="rgb(175, 178, 226)" d="M270 502h5v5h-5z"/>
<path fill="rgb(157, 166, 223)" d="M324 502h6v5h-6zM313 513h6v5h-6z"/>
<path fill="rgb(178, 181, 226)" d="M177 507h5v6h-5zM237 578h5v6h-5z"/>
<path fill="rgb(211, 214, 238)" d="M199 513h5v5h-5zM270 529h5v6h-5z"/>
<path fill="rgb(244, 142, 157)" d="M220 513h6v5h-6z"/>
<path fill="rgb(241, 100, 115)" d="M248 513h5v5h-5z"/>
<path fill="rgb(247, 208, 214)" d="M259 518h5v6h-5zM220 535h6v5h-6z"/>
<path fill="rgb(247, 178, 187)" d="M220 524h6v5h-6z"/>
<path fill="rgb(241, 136, 148)" d="M226 524h5v5h-5z"/>
<path fill="rgb(241, 112, 127)" d="M231 524h6v5h-6z"/>
<path fill="rgb(55, 85, 178)" d="M149 529h6v6h-6z"/>
<path fill="rgb(241, 136, 151)" d="M237 529h5v6h-5z"/>
<path fill="rgb(100, 121, 202)" d="M286 551h6v5h-6zM286 556h6v6h-6z"/>
<path fill="rgb(133, 142, 214)" d="M226 573h5v5h-5z"/>
</g>
<line x1="126.6" y1="616.5" x2="126.6" y2="612" stroke="#000" stroke-width="2.6" stroke-linecap="round" />
<line x1="126.6" y1="299.5" x2="126.6" y2="304" stroke="#000" stroke-width="2.6" stroke-linecap="round" />
<line x1="155.7" y1="616.5" x2="155.7" y2="612" stroke="#000" stroke-width="2.6" stroke-linecap="round" />
<line x1="155.7" y1="299.5" x2="155.7" y2="304" stroke="#000" stroke-width="2.6" stroke-linecap="round" />
<line x1="184.8" y1="616.5" x2="184.8" y2="612" stroke="#000" stroke-width="2.6" stroke-linecap="round" />
<line x1="184.8" y1="299.5" x2="184.8" y2="304" stroke="#000" stroke-width="2.6" stroke-linecap="round" />
<line x1="213.9" y1="616.5" x2="213.9" y2="612" stroke="#000" stroke-width="2.6" stroke-linecap="round" />
<line x1="213.9" y1="299.5" x2="213.9" y2="304" stroke="#000" stroke-width="2.6" stroke-linecap="round" />
<line x1="243" y1="616.5" x2="243" y2="612" stroke="#000" stroke-width="2.6" stroke-linecap="round" />
<line x1="243" y1="299.5" x2="243" y2="304" stroke="#000" stroke-width="2.6" stroke-linecap="round" />
<line x1="272.1" y1="616.5" x2="272.1" y2="612" stroke="#000" stroke-width="2.6" stroke-linecap="round" />
<line x1="272.1" y1="299.5" x2="272.1" y2="304" stroke="#000" stroke-width="2.6" stroke-linecap="round" />
<line x1="301.2" y1="616.5" x2="301.2" y2="612" stroke="#000" stroke-width="2.6" stroke-linecap="round" />
<line x1="301.2" y1="299.5" x2="301.2" y2="304" stroke="#000" stroke-width="2.6" stroke-linecap="round" />
<line x1="330.3" y1="616.5" x2="330.3" y2="612" stroke="#000" stroke-width="2.6" stroke-linecap="round" />
<line x1="330.3" y1="299.5" x2="330.3" y2="304" stroke="#000" stroke-width="2.6" stroke-linecap="round" />
<line x1="359.4" y1="616.5" x2="359.4" y2="612" stroke="#000" stroke-width="2.6" stroke-linecap="round" />
<line x1="359.4" y1="299.5" x2="359.4" y2="304" stroke="#000" stroke-width="2.6" stroke-linecap="round" />
<line x1="388.5" y1="616.5" x2="388.5" y2="612" stroke="#000" stroke-width="2.6" stroke-linecap="round" />
<line x1="388.5" y1="299.5" x2="388.5" y2="304" stroke="#000" stroke-width="2.6" stroke-linecap="round" />
<line x1="105.5" y1="368.3" x2="110" y2="368.3" stroke="#000" stroke-width="2.6" stroke-linecap="round" />
<line x1="390" y1="368.3" x2="385.5" y2="368.3" stroke="#000" stroke-width="2.6" stroke-linecap="round" />
<line x1="105.5" y1="464.6" x2="110" y2="464.6" stroke="#000" stroke-width="2.6" stroke-linecap="round" />
<line x1="390" y1="464.6" x2="385.5" y2="464.6" stroke="#000" stroke-width="2.6" stroke-linecap="round" />
<line x1="105.5" y1="560.9" x2="110" y2="560.9" stroke="#000" stroke-width="2.6" stroke-linecap="round" />
<line x1="390" y1="560.9" x2="385.5" y2="560.9" stroke="#000" stroke-width="2.6" stroke-linecap="round" />
<rect x="105.5" y="299.5" width="284.5" height="317.0" fill="none" stroke="#000" stroke-width="3.2"/>
<text x="122.6" y="646" font-size="29.5" text-anchor="middle" font-weight="normal" font-style="normal" fill="#000" >-8</text>
<text x="179.8" y="646" font-size="29.5" text-anchor="middle" font-weight="normal" font-style="normal" fill="#000" >-4</text>
<text x="240" y="646" font-size="29.5" text-anchor="middle" font-weight="normal" font-style="normal" fill="#000" >0</text>
<text x="297.2" y="646" font-size="29.5" text-anchor="middle" font-weight="normal" font-style="normal" fill="#000" >4</text>
<text x="356.4" y="646" font-size="29.5" text-anchor="middle" font-weight="normal" font-style="normal" fill="#000" >8</text>
<text x="87.5" y="376.8" font-size="29.5" text-anchor="end" font-weight="normal" font-style="normal" fill="#000" >5</text>
<text x="87.5" y="473.1" font-size="29.5" text-anchor="end" font-weight="normal" font-style="normal" fill="#000" >0</text>
<text x="87.5" y="569.4" font-size="29.5" text-anchor="end" font-weight="normal" font-style="normal" fill="#000" >-5</text>
<text x="121.5" y="343.5" font-size="48" text-anchor="start" font-weight="bold" font-style="normal" fill="#fbfbfb" >a</text>
<text x="183" y="674" font-size="32"><tspan font-style="italic">k</tspan><tspan font-style="italic" font-size="22" dy="10">y</tspan><tspan dy="-10">(&#956;m</tspan><tspan font-size="19.5" dy="-13">-1</tspan><tspan dy="13">)</tspan></text>
<text transform="translate(56,511) rotate(-90)" font-size="32"><tspan font-style="italic">k</tspan><tspan font-style="italic" font-size="22" dy="9">x</tspan><tspan dy="-9">(&#956;m</tspan><tspan font-size="19.5" dy="-13">-1</tspan><tspan dy="13">)</tspan></text>
<defs><linearGradient id="cb" x1="0" x2="1" y1="0" y2="0"><stop offset="0" stop-color="rgb(60,92,185)"/><stop offset="0.1" stop-color="rgb(135,148,214)"/><stop offset="0.2" stop-color="rgb(251,249,252)"/><stop offset="0.3" stop-color="rgb(247,200,208)"/><stop offset="0.42" stop-color="rgb(243,150,162)"/><stop offset="0.61" stop-color="rgb(239,88,103)"/><stop offset="0.81" stop-color="rgb(236,56,69)"/><stop offset="1" stop-color="rgb(234,40,52)"/></linearGradient></defs>
<rect x="105.3" y="282.9" width="284.4" height="8.8" fill="url(#cb)" stroke="#000" stroke-width="3.4"/>
<line x1="164" y1="291" x2="164" y2="285.6" stroke="#111" stroke-width="2.6" stroke-linecap="butt" />
<line x1="223" y1="291" x2="223" y2="285.6" stroke="#111" stroke-width="2.6" stroke-linecap="butt" />
<line x1="281.4" y1="291" x2="281.4" y2="285.6" stroke="#111" stroke-width="2.6" stroke-linecap="butt" />
<line x1="339.6" y1="291" x2="339.6" y2="285.6" stroke="#111" stroke-width="2.6" stroke-linecap="butt" />
<text x="106.2" y="275.5" font-size="29.5" text-anchor="middle" font-weight="normal" font-style="normal" fill="#000" >0</text>
<text x="162.7" y="275.5" font-size="29.5" text-anchor="middle" font-weight="normal" font-style="normal" fill="#000" >0.2</text>
<text x="219.4" y="275.5" font-size="29.5" text-anchor="middle" font-weight="normal" font-style="normal" fill="#000" >0.4</text>
<text x="280.2" y="275.5" font-size="29.5" text-anchor="middle" font-weight="normal" font-style="normal" fill="#000" >0.6</text>
<text x="340.2" y="275.5" font-size="29.5" text-anchor="middle" font-weight="normal" font-style="normal" fill="#000" >0.8</text>
<text x="152.8" y="237.3" font-size="31.5" font-style="italic">&#241;</text>
<text x="179" y="237.3" font-size="31.5">(10</text>
<text x="224.3" y="227" font-size="18.5">3</text>
<text x="246.3" y="237.3" font-size="31.5">&#956;m</text>
<text x="291.8" y="227" font-size="18.5">2</text>
<text x="302.5" y="237.3" font-size="31.5">)</text>
<line x1="534.3" y1="565" x2="534.3" y2="557" stroke="#000" stroke-width="4.5" stroke-linecap="butt" />
<line x1="534.3" y1="2.3" x2="534.3" y2="10.3" stroke="#000" stroke-width="4.5" stroke-linecap="butt" />
<line x1="580" y1="565" x2="580" y2="550" stroke="#000" stroke-width="4.5" stroke-linecap="butt" />
<line x1="580" y1="2.3" x2="580" y2="17.3" stroke="#000" stroke-width="4.5" stroke-linecap="butt" />
<line x1="625.7" y1="565" x2="625.7" y2="557" stroke="#000" stroke-width="4.5" stroke-linecap="butt" />
<line x1="625.7" y1="2.3" x2="625.7" y2="10.3" stroke="#000" stroke-width="4.5" stroke-linecap="butt" />
<line x1="671.4" y1="565" x2="671.4" y2="550" stroke="#000" stroke-width="4.5" stroke-linecap="butt" />
<line x1="671.4" y1="2.3" x2="671.4" y2="17.3" stroke="#000" stroke-width="4.5" stroke-linecap="butt" />
<line x1="717.1" y1="565" x2="717.1" y2="557" stroke="#000" stroke-width="4.5" stroke-linecap="butt" />
<line x1="717.1" y1="2.3" x2="717.1" y2="10.3" stroke="#000" stroke-width="4.5" stroke-linecap="butt" />
<line x1="762.8" y1="565" x2="762.8" y2="550" stroke="#000" stroke-width="4.5" stroke-linecap="butt" />
<line x1="762.8" y1="2.3" x2="762.8" y2="17.3" stroke="#000" stroke-width="4.5" stroke-linecap="butt" />
<line x1="808.5" y1="565" x2="808.5" y2="557" stroke="#000" stroke-width="4.5" stroke-linecap="butt" />
<line x1="808.5" y1="2.3" x2="808.5" y2="10.3" stroke="#000" stroke-width="4.5" stroke-linecap="butt" />
<line x1="854.2" y1="565" x2="854.2" y2="550" stroke="#000" stroke-width="4.5" stroke-linecap="butt" />
<line x1="854.2" y1="2.3" x2="854.2" y2="17.3" stroke="#000" stroke-width="4.5" stroke-linecap="butt" />
<line x1="899.9" y1="565" x2="899.9" y2="557" stroke="#000" stroke-width="4.5" stroke-linecap="butt" />
<line x1="899.9" y1="2.3" x2="899.9" y2="10.3" stroke="#000" stroke-width="4.5" stroke-linecap="butt" />
<line x1="945.6" y1="565" x2="945.6" y2="550" stroke="#000" stroke-width="4.5" stroke-linecap="butt" />
<line x1="945.6" y1="2.3" x2="945.6" y2="17.3" stroke="#000" stroke-width="4.5" stroke-linecap="butt" />
<line x1="991.3" y1="565" x2="991.3" y2="557" stroke="#000" stroke-width="4.5" stroke-linecap="butt" />
<line x1="991.3" y1="2.3" x2="991.3" y2="10.3" stroke="#000" stroke-width="4.5" stroke-linecap="butt" />
<line x1="525.5" y1="508.5" x2="540.5" y2="508.5" stroke="#000" stroke-width="4.5" stroke-linecap="butt" />
<line x1="1000.5" y1="508.5" x2="985.5" y2="508.5" stroke="#000" stroke-width="4.5" stroke-linecap="butt" />
<line x1="525.5" y1="452.3" x2="533.5" y2="452.3" stroke="#000" stroke-width="4.5" stroke-linecap="butt" />
<line x1="1000.5" y1="452.3" x2="992.5" y2="452.3" stroke="#000" stroke-width="4.5" stroke-linecap="butt" />
<line x1="525.5" y1="396.1" x2="540.5" y2="396.1" stroke="#000" stroke-width="4.5" stroke-linecap="butt" />
<line x1="1000.5" y1="396.1" x2="985.5" y2="396.1" stroke="#000" stroke-width="4.5" stroke-linecap="butt" />
<line x1="525.5" y1="339.9" x2="533.5" y2="339.9" stroke="#000" stroke-width="4.5" stroke-linecap="butt" />
<line x1="1000.5" y1="339.9" x2="992.5" y2="339.9" stroke="#000" stroke-width="4.5" stroke-linecap="butt" />
<line x1="525.5" y1="283.7" x2="540.5" y2="283.7" stroke="#000" stroke-width="4.5" stroke-linecap="butt" />
<line x1="1000.5" y1="283.7" x2="985.5" y2="283.7" stroke="#000" stroke-width="4.5" stroke-linecap="butt" />
<line x1="525.5" y1="227.5" x2="533.5" y2="227.5" stroke="#000" stroke-width="4.5" stroke-linecap="butt" />
<line x1="1000.5" y1="227.5" x2="992.5" y2="227.5" stroke="#000" stroke-width="4.5" stroke-linecap="butt" />
<line x1="525.5" y1="171.3" x2="540.5" y2="171.3" stroke="#000" stroke-width="4.5" stroke-linecap="butt" />
<line x1="1000.5" y1="171.3" x2="985.5" y2="171.3" stroke="#000" stroke-width="4.5" stroke-linecap="butt" />
<line x1="525.5" y1="115.1" x2="533.5" y2="115.1" stroke="#000" stroke-width="4.5" stroke-linecap="butt" />
<line x1="1000.5" y1="115.1" x2="992.5" y2="115.1" stroke="#000" stroke-width="4.5" stroke-linecap="butt" />
<line x1="525.5" y1="58.9" x2="540.5" y2="58.9" stroke="#000" stroke-width="4.5" stroke-linecap="butt" />
<line x1="1000.5" y1="58.9" x2="985.5" y2="58.9" stroke="#000" stroke-width="4.5" stroke-linecap="butt" />
<rect x="525.5" y="2.3" width="475.0" height="562.7" fill="none" stroke="#000" stroke-width="4.8" stroke-linejoin="round"/>
<text x="573.5" y="604" font-size="30.5" text-anchor="middle" font-weight="normal" font-style="normal" fill="#000" >1.5</text>
<text x="664.9" y="604" font-size="30.5" text-anchor="middle" font-weight="normal" font-style="normal" fill="#000" >2</text>
<text x="756.3" y="604" font-size="30.5" text-anchor="middle" font-weight="normal" font-style="normal" fill="#000" >2.5</text>
<text x="847.7" y="604" font-size="30.5" text-anchor="middle" font-weight="normal" font-style="normal" fill="#000" >3</text>
<text x="939.1" y="604" font-size="30.5" text-anchor="middle" font-weight="normal" font-style="normal" fill="#000" >3.5</text>
<text x="511.5" y="517.5" font-size="30.5" text-anchor="end" font-weight="normal" font-style="normal" fill="#000" >2</text>
<text x="511.5" y="405.1" font-size="30.5" text-anchor="end" font-weight="normal" font-style="normal" fill="#000" >3</text>
<text x="511.5" y="292.7" font-size="30.5" text-anchor="end" font-weight="normal" font-style="normal" fill="#000" >4</text>
<text x="511.5" y="180.3" font-size="30.5" text-anchor="end" font-weight="normal" font-style="normal" fill="#000" >5</text>
<text x="511.5" y="67.9" font-size="30.5" text-anchor="end" font-weight="normal" font-style="normal" fill="#000" >6</text>
<text x="513" y="651.3" font-size="34.5"><tspan font-style="italic">z</tspan>-confinement scale, 1/<tspan font-style="italic">&#8467;</tspan></text>
<text x="888.5" y="661" font-size="22" font-style="italic">z</text>
<text x="909" y="651.3" font-size="34.5">(&#956;m<tspan font-size="22" dy="-14">-1</tspan><tspan dy="14">)</tspan></text>
<text transform="translate(469.3,501.7) rotate(-90)" font-size="34.5">Roton momentum, k<tspan font-size="22" dy="8">rot</tspan><tspan dy="-8">(&#956;m</tspan><tspan font-size="22" dy="-14">-1</tspan><tspan dy="14">)</tspan></text>
<text x="557" y="64.5" font-size="51" text-anchor="start" font-weight="bold" font-style="normal" fill="#000" >b</text>
<line x1="592.1" y1="388" x2="592.1" y2="534.3" stroke="#5576c8" stroke-width="4.6" stroke-linecap="round" />
<line x1="633.2" y1="367.8" x2="633.2" y2="397.6" stroke="#5576c8" stroke-width="4.6" stroke-linecap="round" />
<line x1="716" y1="301.6" x2="716" y2="364.7" stroke="#5576c8" stroke-width="4.6" stroke-linecap="round" />
<line x1="808" y1="207" x2="808" y2="341.6" stroke="#5576c8" stroke-width="4.6" stroke-linecap="round" />
<line x1="899.3" y1="125.3" x2="899.3" y2="182.8" stroke="#5576c8" stroke-width="4.6" stroke-linecap="round" />
<line x1="958" y1="43.6" x2="958" y2="233.3" stroke="#5576c8" stroke-width="4.6" stroke-linecap="round" />
<circle cx="592.1" cy="461.4" r="11.2" fill="#7ba7e0" stroke="#4a70c6" stroke-width="2.3"/>
<circle cx="633.2" cy="382.2" r="11.2" fill="#7ba7e0" stroke="#4a70c6" stroke-width="2.3"/>
<circle cx="716.0" cy="337.5" r="11.2" fill="#7ba7e0" stroke="#4a70c6" stroke-width="2.3"/>
<circle cx="808.0" cy="274.4" r="11.2" fill="#7ba7e0" stroke="#4a70c6" stroke-width="2.3"/>
<circle cx="899.3" cy="154.0" r="11.2" fill="#7ba7e0" stroke="#4a70c6" stroke-width="2.3"/>
<circle cx="958.0" cy="138.9" r="11.2" fill="#7ba7e0" stroke="#4a70c6" stroke-width="2.3"/>
<path d="M591.1 436.1 L632.2 381.2 L715.7 322.8 L805.8 281 L897.2 223.6 L955.6 153.4" fill="none" stroke="#ec2630" stroke-width="5" stroke-dasharray="8 12.3" stroke-linecap="round"/>
<polygon points="591.1,426.5 600.7,436.1 591.1,445.7 581.5,436.1" fill="#ec2630"/>
<polygon points="632.2,371.6 641.8,381.2 632.2,390.8 622.6,381.2" fill="#ec2630"/>
<polygon points="715.7,313.2 725.3,322.8 715.7,332.4 706.1,322.8" fill="#ec2630"/>
<polygon points="805.8,271.4 815.4,281 805.8,290.6 796.2,281" fill="#ec2630"/>
<polygon points="897.2,214 906.8,223.6 897.2,233.2 887.6,223.6" fill="#ec2630"/>
<polygon points="955.6,143.8 965.2,153.4 955.6,163 946,153.4" fill="#ec2630"/>
<path d="M590.7 436.7 L631.6 391.5 L714.4 371.5 L805.5 303.1 L897.2 240.2" fill="none" stroke="#5a262e" stroke-width="4.6" stroke-dasharray="2.6 8.4" stroke-linecap="round"/>
<rect x="584.5" y="430.5" width="12.4" height="12.4" fill="#5a262e"/>
<rect x="625.4" y="385.3" width="12.4" height="12.4" fill="#5a262e"/>
<rect x="708.2" y="365.3" width="12.4" height="12.4" fill="#5a262e"/>
<rect x="799.3" y="296.9" width="12.4" height="12.4" fill="#5a262e"/>
<rect x="891" y="234" width="12.4" height="12.4" fill="#5a262e"/>
<line x1="635.9" y1="399.7" x2="635.9" y2="435.7" stroke="#2e9a4a" stroke-width="3.2" stroke-linecap="round" />
<polygon points="622.5,410.5 649.3,410.5 635.9,430.5" fill="#45b865" stroke="#2d9448" stroke-width="2" stroke-linejoin="round"/>
<rect x="706.2" y="713.6" width="32.9" height="469.19999999999993" fill="#d5d7d4"/>
<line x1="188.8" y1="1184.8" x2="188.8" y2="1170.8" stroke="#000" stroke-width="4.5" stroke-linecap="butt" />
<line x1="188.8" y1="711.6" x2="188.8" y2="725.6" stroke="#000" stroke-width="4.5" stroke-linecap="butt" />
<line x1="291.4" y1="1184.8" x2="291.4" y2="1177.8" stroke="#000" stroke-width="4.5" stroke-linecap="butt" />
<line x1="291.4" y1="711.6" x2="291.4" y2="718.6" stroke="#000" stroke-width="4.5" stroke-linecap="butt" />
<line x1="394.1" y1="1184.8" x2="394.1" y2="1170.8" stroke="#000" stroke-width="4.5" stroke-linecap="butt" />
<line x1="394.1" y1="711.6" x2="394.1" y2="725.6" stroke="#000" stroke-width="4.5" stroke-linecap="butt" />
<line x1="496.7" y1="1184.8" x2="496.7" y2="1177.8" stroke="#000" stroke-width="4.5" stroke-linecap="butt" />
<line x1="496.7" y1="711.6" x2="496.7" y2="718.6" stroke="#000" stroke-width="4.5" stroke-linecap="butt" />
<line x1="599.3" y1="1184.8" x2="599.3" y2="1170.8" stroke="#000" stroke-width="4.5" stroke-linecap="butt" />
<line x1="599.3" y1="711.6" x2="599.3" y2="725.6" stroke="#000" stroke-width="4.5" stroke-linecap="butt" />
<line x1="701.9" y1="1184.8" x2="701.9" y2="1177.8" stroke="#000" stroke-width="4.5" stroke-linecap="butt" />
<line x1="701.9" y1="711.6" x2="701.9" y2="718.6" stroke="#000" stroke-width="4.5" stroke-linecap="butt" />
<line x1="804.5" y1="1184.8" x2="804.5" y2="1170.8" stroke="#000" stroke-width="4.5" stroke-linecap="butt" />
<line x1="804.5" y1="711.6" x2="804.5" y2="725.6" stroke="#000" stroke-width="4.5" stroke-linecap="butt" />
<line x1="907.2" y1="1184.8" x2="907.2" y2="1177.8" stroke="#000" stroke-width="4.5" stroke-linecap="butt" />
<line x1="907.2" y1="711.6" x2="907.2" y2="718.6" stroke="#000" stroke-width="4.5" stroke-linecap="butt" />
<line x1="1009.8" y1="1184.8" x2="1009.8" y2="1170.8" stroke="#000" stroke-width="4.5" stroke-linecap="butt" />
<line x1="1009.8" y1="711.6" x2="1009.8" y2="725.6" stroke="#000" stroke-width="4.5" stroke-linecap="butt" />
<line x1="107" y1="737.8" x2="121" y2="737.8" stroke="#000" stroke-width="4.5" stroke-linecap="butt" />
<line x1="1010" y1="737.8" x2="996" y2="737.8" stroke="#000" stroke-width="4.5" stroke-linecap="butt" />
<line x1="107" y1="790.5" x2="114" y2="790.5" stroke="#000" stroke-width="4.5" stroke-linecap="butt" />
<line x1="1010" y1="790.5" x2="1003" y2="790.5" stroke="#000" stroke-width="4.5" stroke-linecap="butt" />
<line x1="107" y1="843.2" x2="121" y2="843.2" stroke="#000" stroke-width="4.5" stroke-linecap="butt" />
<line x1="1010" y1="843.2" x2="996" y2="843.2" stroke="#000" stroke-width="4.5" stroke-linecap="butt" />
<line x1="107" y1="895.9" x2="114" y2="895.9" stroke="#000" stroke-width="4.5" stroke-linecap="butt" />
<line x1="1010" y1="895.9" x2="1003" y2="895.9" stroke="#000" stroke-width="4.5" stroke-linecap="butt" />
<line x1="107" y1="948.6" x2="121" y2="948.6" stroke="#000" stroke-width="4.5" stroke-linecap="butt" />
<line x1="1010" y1="948.6" x2="996" y2="948.6" stroke="#000" stroke-width="4.5" stroke-linecap="butt" />
<line x1="107" y1="1001.3" x2="114" y2="1001.3" stroke="#000" stroke-width="4.5" stroke-linecap="butt" />
<line x1="1010" y1="1001.3" x2="1003" y2="1001.3" stroke="#000" stroke-width="4.5" stroke-linecap="butt" />
<line x1="107" y1="1054" x2="121" y2="1054" stroke="#000" stroke-width="4.5" stroke-linecap="butt" />
<line x1="1010" y1="1054" x2="996" y2="1054" stroke="#000" stroke-width="4.5" stroke-linecap="butt" />
<line x1="107" y1="1106.7" x2="114" y2="1106.7" stroke="#000" stroke-width="4.5" stroke-linecap="butt" />
<line x1="1010" y1="1106.7" x2="1003" y2="1106.7" stroke="#000" stroke-width="4.5" stroke-linecap="butt" />
<line x1="107" y1="1159.4" x2="121" y2="1159.4" stroke="#000" stroke-width="4.5" stroke-linecap="butt" />
<line x1="1010" y1="1159.4" x2="996" y2="1159.4" stroke="#000" stroke-width="4.5" stroke-linecap="butt" />
<rect x="107.0" y="711.6" width="903.0" height="473.19999999999993" fill="none" stroke="#000" stroke-width="4.8" stroke-linejoin="round"/>
<polygon points="107.3,1004.4 110,1003.8 113,1003 116,1002.3 119,1001.6 122,1000.9 125,1000.2 128,999.4 131,998.7 134,998 137,997.2 140,996.5 143,995.8 146,995 149,994.3 152,993.5 155,992.8 158,992 161,991.3 164,990.5 167,989.8 170,989 173,988.3 176,987.5 179,986.8 182,986 185,985.2 188,984.5 191,983.7 194,982.9 197,982.2 200,981.4 203,980.6 206,979.8 209,979.1 212,978.3 215,977.5 218,976.7 221,975.9 224,975.1 227,974.3 230,973.5 233,972.7 236,971.9 239,971.1 242,970.3 245,969.5 248,968.7 251,967.9 254,967.1 257,966.3 260,965.4 263,964.6 266,963.8 269,963 272,962.1 275,961.3 278,960.5 281,959.6 284,958.8 287,957.9 290,957.1 293,956.2 296,955.4 299,954.5 302,953.7 305,952.8 308,951.9 311,951.1 314,950.2 317,949.3 320,948.4 323,947.6 326,946.7 329,945.8 332,944.9 335,944 338,943.1 341,942.2 344,941.3 347,940.4 350,939.5 353,938.6 356,937.6 359,936.7 362,935.8 365,934.9 368,933.9 371,933 374,932.1 377,931.1 380,930.2 383,929.2 386,928.3 389,927.3 392,926.3 395,925.4 398,924.4 401,923.4 404,922.4 407,921.4 410,920.4 413,919.4 416,918.4 419,917.4 422,916.4 425,915.4 428,914.4 431,913.4 434,912.3 437,911.3 440,910.2 443,909.2 446,908.1 449,907.1 452,906 455,904.9 458,903.9 461,902.8 464,901.7 467,900.6 470,899.5 473,898.4 476,897.3 479,896.1 482,895 485,893.9 488,892.7 491,891.6 494,890.4 497,889.3 500,888.1 503,886.9 506,885.7 509,884.5 512,883.3 515,882.1 518,880.9 521,879.6 524,878.4 527,877.1 530,875.9 533,874.6 536,873.3 539,872 542,870.7 545,869.4 548,868.1 551,866.7 554,865.4 557,864 560,862.7 563,861.3 566,859.9 569,858.4 572,857 575,855.6 578,854.1 581,852.6 584,851.1 587,849.6 590,848.1 593,846.5 596,845 599,843.4 602,841.8 605,840.1 608,838.5 611,836.8 614,835.1 617,833.4 620,831.6 623,829.9 626,828 629,826.2 632,824.3 635,822.4 638,820.5 641,818.5 644,816.4 647,814.4 650,812.2 653,810.1 656,807.8 659,805.5 662,803.2 665,800.7 668,798.2 671,795.6 674,792.9 677,790 680,787.1 683,784 686,780.7 689,777.1 692,773.4 695,769.2 698,764.6 703.6,754.3 707.5,746.5 710.6,738.7 713.5,731.5 716.1,724.7 718.5,717 720.2,711.8 719.8,711.8 719.8,811 718.2,806.5 716.6,805.3 714.5,806.2 713.1,807.5 709.5,813.5 706.8,817.2 703.8,821.4 700.8,825.3 697.8,829 694.8,832.6 691.8,836 688.8,839.3 685.8,842.5 682.8,845.6 679.8,848.7 676.8,851.7 673.8,854.6 670.8,857.5 667.8,860.4 664.8,863.1 661.8,865.9 658.8,868.6 655.8,871.3 652.8,873.9 649.8,876.5 646.8,879.1 643.8,881.6 640.8,884.1 637.8,886.6 634.8,889 631.8,891.5 628.8,893.9 625.8,896.3 622.8,898.6 619.8,900.9 616.8,903.2 613.8,905.5 610.8,907.8 607.8,910 604.8,912.3 601.8,914.5 598.8,916.7 595.8,918.8 592.8,921 589.8,923.1 586.8,925.3 583.8,927.4 580.8,929.5 577.8,931.5 574.8,933.6 571.8,935.7 568.8,937.7 565.8,939.7 562.8,941.7 559.8,943.7 556.8,945.7 553.8,947.7 550.8,949.6 547.8,951.5 544.8,953.5 541.8,955.4 538.8,957.3 535.8,959.2 532.8,961.1 529.8,962.9 526.8,964.8 523.8,966.7 520.8,968.5 517.8,970.3 514.8,972.1 511.8,974 508.8,975.8 505.8,977.5 502.8,979.3 499.8,981.1 496.8,982.9 493.8,984.6 490.8,986.4 487.8,988.1 484.8,989.8 481.8,991.5 478.8,993.2 475.8,994.9 472.8,996.6 469.8,998.3 466.8,1000 463.8,1001.6 460.8,1003.3 457.8,1005 454.8,1006.6 451.8,1008.2 448.8,1009.9 445.8,1011.5 442.8,1013.1 439.8,1014.7 436.8,1016.3 433.8,1017.9 430.8,1019.5 427.8,1021 424.8,1022.6 421.8,1024.2 418.8,1025.7 415.8,1027.3 412.8,1028.8 409.8,1030.4 406.8,1031.9 403.8,1033.4 400.8,1034.9 397.8,1036.4 394.8,1037.9 391.8,1039.4 388.8,1040.9 385.8,1042.4 382.8,1043.9 379.8,1045.4 376.8,1046.8 373.8,1048.3 370.8,1049.7 367.8,1051.2 364.8,1052.6 361.8,1054.1 358.8,1055.5 355.8,1056.9 352.8,1058.3 349.8,1059.8 346.8,1061.2 343.8,1062.6 340.8,1064 337.8,1065.4 334.8,1066.8 331.8,1068.1 328.8,1069.5 325.8,1070.9 322.8,1072.3 319.8,1073.6 316.8,1075 313.8,1076.3 310.8,1077.7 307.8,1079 304.8,1080.4 301.8,1081.7 298.8,1083 295.8,1084.3 292.8,1085.7 289.8,1087 286.8,1088.3 283.8,1089.6 280.8,1090.9 277.8,1092.2 274.8,1093.5 271.8,1094.8 268.8,1096 265.8,1097.3 262.8,1098.6 259.8,1099.9 256.8,1101.1 253.8,1102.4 250.8,1103.6 247.8,1104.9 244.8,1106.1 241.8,1107.4 238.8,1108.6 235.8,1109.9 232.8,1111.1 229.8,1112.3 226.8,1113.5 223.8,1114.8 220.8,1116 217.8,1117.2 214.8,1118.4 211.8,1119.6 208.8,1120.8 205.8,1122 202.8,1123.2 199.8,1124.4 196.8,1125.5 193.8,1126.7 190.8,1127.9 187.8,1129.1 184.8,1130.2 181.8,1131.4 178.8,1132.6 175.8,1133.7 172.8,1134.9 169.8,1136 166.8,1137.2 163.8,1138.3 160.8,1139.4 157.8,1140.6 154.8,1141.7 151.8,1142.8 148.8,1143.9 145.8,1145.1 142.8,1146.2 139.8,1147.3 136.8,1148.4 133.8,1149.5 130.8,1150.6 127.8,1151.7 124.8,1152.8 121.8,1153.9 118.8,1155 115.8,1156.1 112.8,1157.2 109.8,1158.2 107.3,1159.1" fill="rgb(115,176,95)" fill-opacity="0.42"/>
<polyline points="110,1003.8 113,1003 116,1002.3 119,1001.6 122,1000.9 125,1000.2 128,999.4 131,998.7 134,998 137,997.2 140,996.5 143,995.8 146,995 149,994.3 152,993.5 155,992.8 158,992 161,991.3 164,990.5 167,989.8 170,989 173,988.3 176,987.5 179,986.8 182,986 185,985.2 188,984.5 191,983.7 194,982.9 197,982.2 200,981.4 203,980.6 206,979.8 209,979.1 212,978.3 215,977.5 218,976.7 221,975.9 224,975.1 227,974.3 230,973.5 233,972.7 236,971.9 239,971.1 242,970.3 245,969.5 248,968.7 251,967.9 254,967.1 257,966.3 260,965.4 263,964.6 266,963.8 269,963 272,962.1 275,961.3 278,960.5 281,959.6 284,958.8 287,957.9 290,957.1 293,956.2 296,955.4 299,954.5 302,953.7 305,952.8 308,951.9 311,951.1 314,950.2 317,949.3 320,948.4 323,947.6 326,946.7 329,945.8 332,944.9 335,944 338,943.1 341,942.2 344,941.3 347,940.4 350,939.5 353,938.6 356,937.6 359,936.7 362,935.8 365,934.9 368,933.9 371,933 374,932.1 377,931.1 380,930.2 383,929.2 386,928.3 389,927.3 392,926.3 395,925.4 398,924.4 401,923.4 404,922.4 407,921.4 410,920.4 413,919.4 416,918.4 419,917.4 422,916.4 425,915.4 428,914.4 431,913.4 434,912.3 437,911.3 440,910.2 443,909.2 446,908.1 449,907.1 452,906 455,904.9 458,903.9 461,902.8 464,901.7 467,900.6 470,899.5 473,898.4 476,897.3 479,896.1 482,895 485,893.9 488,892.7 491,891.6 494,890.4 497,889.3 500,888.1 503,886.9 506,885.7 509,884.5 512,883.3 515,882.1 518,880.9 521,879.6 524,878.4 527,877.1 530,875.9 533,874.6 536,873.3 539,872 542,870.7 545,869.4 548,868.1 551,866.7 554,865.4 557,864 560,862.7 563,861.3 566,859.9 569,858.4 572,857 575,855.6 578,854.1 581,852.6 584,851.1 587,849.6 590,848.1 593,846.5 596,845 599,843.4 602,841.8 605,840.1 608,838.5 611,836.8 614,835.1 617,833.4 620,831.6 623,829.9 626,828 629,826.2 632,824.3 635,822.4 638,820.5 641,818.5 644,816.4 647,814.4 650,812.2 653,810.1 656,807.8 659,805.5 662,803.2 665,800.7 668,798.2 671,795.6 674,792.9 677,790 680,787.1 683,784 686,780.7 689,777.1 692,773.4 695,769.2 698,764.6 703.6,754.3 707.5,746.5 710.6,738.7 713.5,731.5 716.1,724.7 718.5,717 720.2,711.8 719.8,711.8 719.8,811 718.2,806.5 716.6,805.3 714.5,806.2 713.1,807.5 709.5,813.5 706.8,817.2 703.8,821.4 700.8,825.3 697.8,829 694.8,832.6 691.8,836 688.8,839.3 685.8,842.5 682.8,845.6 679.8,848.7 676.8,851.7 673.8,854.6 670.8,857.5 667.8,860.4 664.8,863.1 661.8,865.9 658.8,868.6 655.8,871.3 652.8,873.9 649.8,876.5 646.8,879.1 643.8,881.6 640.8,884.1 637.8,886.6 634.8,889 631.8,891.5 628.8,893.9 625.8,896.3 622.8,898.6 619.8,900.9 616.8,903.2 613.8,905.5 610.8,907.8 607.8,910 604.8,912.3 601.8,914.5 598.8,916.7 595.8,918.8 592.8,921 589.8,923.1 586.8,925.3 583.8,927.4 580.8,929.5 577.8,931.5 574.8,933.6 571.8,935.7 568.8,937.7 565.8,939.7 562.8,941.7 559.8,943.7 556.8,945.7 553.8,947.7 550.8,949.6 547.8,951.5 544.8,953.5 541.8,955.4 538.8,957.3 535.8,959.2 532.8,961.1 529.8,962.9 526.8,964.8 523.8,966.7 520.8,968.5 517.8,970.3 514.8,972.1 511.8,974 508.8,975.8 505.8,977.5 502.8,979.3 499.8,981.1 496.8,982.9 493.8,984.6 490.8,986.4 487.8,988.1 484.8,989.8 481.8,991.5 478.8,993.2 475.8,994.9 472.8,996.6 469.8,998.3 466.8,1000 463.8,1001.6 460.8,1003.3 457.8,1005 454.8,1006.6 451.8,1008.2 448.8,1009.9 445.8,1011.5 442.8,1013.1 439.8,1014.7 436.8,1016.3 433.8,1017.9 430.8,1019.5 427.8,1021 424.8,1022.6 421.8,1024.2 418.8,1025.7 415.8,1027.3 412.8,1028.8 409.8,1030.4 406.8,1031.9 403.8,1033.4 400.8,1034.9 397.8,1036.4 394.8,1037.9 391.8,1039.4 388.8,1040.9 385.8,1042.4 382.8,1043.9 379.8,1045.4 376.8,1046.8 373.8,1048.3 370.8,1049.7 367.8,1051.2 364.8,1052.6 361.8,1054.1 358.8,1055.5 355.8,1056.9 352.8,1058.3 349.8,1059.8 346.8,1061.2 343.8,1062.6 340.8,1064 337.8,1065.4 334.8,1066.8 331.8,1068.1 328.8,1069.5 325.8,1070.9 322.8,1072.3 319.8,1073.6 316.8,1075 313.8,1076.3 310.8,1077.7 307.8,1079 304.8,1080.4 301.8,1081.7 298.8,1083 295.8,1084.3 292.8,1085.7 289.8,1087 286.8,1088.3 283.8,1089.6 280.8,1090.9 277.8,1092.2 274.8,1093.5 271.8,1094.8 268.8,1096 265.8,1097.3 262.8,1098.6 259.8,1099.9 256.8,1101.1 253.8,1102.4 250.8,1103.6 247.8,1104.9 244.8,1106.1 241.8,1107.4 238.8,1108.6 235.8,1109.9 232.8,1111.1 229.8,1112.3 226.8,1113.5 223.8,1114.8 220.8,1116 217.8,1117.2 214.8,1118.4 211.8,1119.6 208.8,1120.8 205.8,1122 202.8,1123.2 199.8,1124.4 196.8,1125.5 193.8,1126.7 190.8,1127.9 187.8,1129.1 184.8,1130.2 181.8,1131.4 178.8,1132.6 175.8,1133.7 172.8,1134.9 169.8,1136 166.8,1137.2 163.8,1138.3 160.8,1139.4 157.8,1140.6 154.8,1141.7 151.8,1142.8 148.8,1143.9 145.8,1145.1 142.8,1146.2 139.8,1147.3 136.8,1148.4 133.8,1149.5 130.8,1150.6 127.8,1151.7 124.8,1152.8 121.8,1153.9 118.8,1155 115.8,1156.1 112.8,1157.2 109.8,1158.2" fill="none" stroke="#6db8a2" stroke-width="0.9"/>
<line x1="723.3" y1="714.6" x2="723.3" y2="1182.8" stroke="#6a6b6b" stroke-width="2.9" stroke-linecap="round" stroke-dasharray="0 4.5"/>
<path d="M108 1084.7 L108 1084.1 L108 1083.5 L108 1082.9 L108 1082.3 L110 1081.6 L112 1081 L114 1080.4 L116 1079.8 L118 1079.2 L120 1078.5 L122 1077.9 L124 1077.3 L126 1076.7 L128 1076.1 L130 1075.4 L132 1074.8 L134 1074.2 L136 1073.5 L138 1072.9 L140 1072.3 L142 1071.7 L144 1071 L146 1070.4 L148 1069.8 L150 1069.1 L152 1068.5 L154 1067.9 L156 1067.2 L158 1066.6 L160 1065.9 L162 1065.3 L164 1064.7 L166 1064 L168 1063.4 L170 1062.7 L172 1062.1 L174 1061.4 L176 1060.8 L178 1060.1 L180 1059.5 L182 1058.8 L184 1058.2 L186 1057.5 L188 1056.9 L190 1056.2 L192 1055.6 L194 1054.9 L196 1054.2 L198 1053.6 L200 1052.9 L202 1052.3 L204 1051.6 L206 1050.9 L208 1050.3 L210 1049.6 L212 1048.9 L214 1048.3 L216 1047.6 L218 1046.9 L220 1046.2 L222 1045.6 L224 1044.9 L226 1044.2 L228 1043.5 L230 1042.9 L232 1042.2 L234 1041.5 L236 1040.8 L238 1040.1 L240 1039.4 L242 1038.8 L244 1038.1 L246 1037.4 L248 1036.7 L250 1036 L252 1035.3 L254 1034.6 L256 1033.9 L258 1033.2 L260 1032.5 L262 1031.8 L264 1031.1 L266 1030.4 L268 1029.7 L270 1029 L272 1028.3 L274 1027.6 L276 1026.9 L278 1026.2 L280 1025.5 L282 1024.7 L284 1024 L286 1023.3 L288 1022.6 L290 1021.9 L292 1021.2 L294 1020.4 L296 1019.7 L298 1019 L300 1018.3 L302 1017.5 L304 1016.8 L306 1016.1 L308 1015.3 L310 1014.6 L312 1013.9 L314 1013.1 L316 1012.4 L318 1011.6 L320 1010.9 L322 1010.1 L324 1009.4 L326 1008.7 L328 1007.9 L330 1007.1 L332 1006.4 L334 1005.6 L336 1004.9 L338 1004.1 L340 1003.4 L342 1002.6 L344 1001.8 L346 1001.1 L348 1000.3 L350 999.5 L352 998.8 L354 998 L356 997.2 L358 996.4 L360 995.7 L362 994.9 L364 994.1 L366 993.3 L368 992.5 L370 991.7 L372 990.9 L374 990.2 L376 989.4 L378 988.6 L380 987.8 L382 987 L384 986.2 L386 985.4 L388 984.5 L390 983.7 L392 982.9 L394 982.1 L396 981.3 L398 980.5 L400 979.7 L402 978.8 L404 978 L406 977.2 L408 976.3 L410 975.5 L412 974.7 L414 973.8 L416 973 L418 972.2 L420 971.3 L422 970.5 L424 969.6 L426 968.8 L428 967.9 L430 967.1 L432 966.2 L434 965.3 L436 964.5 L438 963.6 L440 962.7 L442 961.9 L444 961 L446 960.1 L448 959.2 L450 958.3 L452 957.4 L454 956.6 L456 955.7 L458 954.8 L460 953.9 L462 953 L464 952.1 L466 951.1 L468 950.2 L470 949.3 L472 948.4 L474 947.5 L476 946.6 L478 945.6 L480 944.7 L482 943.8 L484 942.8 L486 941.9 L488 940.9 L490 940 L492 939 L494 938.1 L496 937.1 L498 936.1 L500 935.2 L502 934.2 L504 933.2 L506 932.2 L508 931.3 L510 930.3 L512 929.3 L514 928.3 L516 927.3 L518 926.3 L520 925.3 L522 924.2 L524 923.2 L526 922.2 L528 921.2 L530 920.1 L532 919.1 L534 918.1 L536 917 L538 916 L540 914.9 L542 913.8 L544 912.8 L546 911.7 L548 910.6 L550 909.5 L552 908.4 L554 907.3 L556 906.2 L558 905.1 L560 904 L562 902.9 L564 901.8 L566 900.6 L568 899.5 L570 898.4 L572 897.2 L574 896 L576 894.9 L578 893.7 L580 892.5 L582 891.3 L584 890.1 L586 888.9 L588 887.7 L590 886.5 L592 885.3 L594 884 L596 882.8 L598 881.5 L600 880.3 L602 879 L604 877.7 L606 876.4 L608 875.1 L610 873.8 L612 872.5 L614 871.2 L616 869.8 L618 868.5 L620 867.1 L622 865.7 L624 864.3 L626 862.9 L628 861.5 L630 860.1 L632 858.6 L634 857.2 L636 855.7 L638 854.2 L640 852.7 L642 851.2 L644 849.7 L646 848.1 L648 846.6 L650 845 L652 843.4 L654 841.7 L656 840.1 L658 838.4 L660 836.7 L662 835 L664 833.2 L666 831.5 L668 829.7 L670 827.8 L672 826 L674 824.1 L676 822.1 L678 820.2 L680 818.2 L682 816.1 L684 814 L686 811.9 L688 809.7 L690 807.5 L690.5 806.9 L691 806.3 L691.5 805.7 L692 805.2 L692.5 804.6 L693 804 L693.5 803.4 L694 802.8 L694.5 802.2 L695 801.6 L695.5 801 L696 800.3 L696.5 799.7 L697 799.1 L697.5 798.5 L698 797.8 L698.5 797.2 L699 796.5 L699.5 795.9 L700 795.2 L700.5 794.5 L701 793.9 L701.5 793.2 L702 792.5 L702.5 791.8 L703 791.1 L703.5 790.4 L704 789.6 L704.5 788.9 L705 788.2 L705.5 787.4 L706 786.7 L706.5 785.9 L707 785.1 L707.5 784.4 L708 783.6 L708.5 782.7 L709 781.9 L709.5 781.1 L710 780.2 L710.5 779.4 L711 778.5 L711.5 777.6 L712 776.7 L712.5 775.8 L713 774.8 L713.5 773.9 L714 772.9 L714.5 771.9 L715 770.9 L715.5 769.8 L716 768.7 L716.5 767.6 L717 766.4 L717.5 765.2 L718 764 L718.5 762.7 L719 761.3 L719.5 759.9 L720 758.4 L720.5 756.8 L721 755.1 L721.5 753.3 L722 751.2 L722.5 748.8 L723 746 L723.5 741.7 L723.5 739.8" fill="none" stroke="#26817f" stroke-width="5" stroke-dasharray="7.5 11.5" stroke-linecap="round"/>
<polygon points="138,1060.8 148.7,1068.5 144.6,1081.1 131.4,1081.1 127.3,1068.5" fill="#f4f4f3" stroke="#3b8f8c" stroke-width="3" stroke-linejoin="miter"/>
<polygon points="249,1023.3 259.7,1031 255.6,1043.6 242.4,1043.6 238.3,1031" fill="#f4f4f3" stroke="#3b8f8c" stroke-width="3" stroke-linejoin="miter"/>
<polygon points="341,989.1 351.7,996.8 347.6,1009.4 334.4,1009.4 330.3,996.8" fill="#f4f4f3" stroke="#3b8f8c" stroke-width="3" stroke-linejoin="miter"/>
<polygon points="418.7,959.8 429.4,967.5 425.3,980.1 412.1,980.1 408,967.5" fill="#f4f4f3" stroke="#3b8f8c" stroke-width="3" stroke-linejoin="miter"/>
<polygon points="484.9,928.6 495.6,936.3 491.5,948.9 478.3,948.9 474.2,936.3" fill="#f4f4f3" stroke="#3b8f8c" stroke-width="3" stroke-linejoin="miter"/>
<polygon points="542,900.5 552.7,908.2 548.6,920.8 535.4,920.8 531.3,908.2" fill="#f4f4f3" stroke="#3b8f8c" stroke-width="3" stroke-linejoin="miter"/>
<polygon points="592.6,872.4 603.3,880.1 599.2,892.7 586,892.7 581.9,880.1" fill="#f4f4f3" stroke="#3b8f8c" stroke-width="3" stroke-linejoin="miter"/>
<polygon points="636.3,841.8 647,849.5 642.9,862.1 629.7,862.1 625.6,849.5" fill="#f4f4f3" stroke="#3b8f8c" stroke-width="3" stroke-linejoin="miter"/>
<polygon points="676.3,809.3 687,817 682.9,829.6 669.7,829.6 665.6,817" fill="#f4f4f3" stroke="#3b8f8c" stroke-width="3" stroke-linejoin="miter"/>
<path d="M108 1089.4 L110 1088.8 L112 1088.1 L114 1087.5 L116 1086.8 L118 1086.2 L120 1085.6 L122 1084.9 L124 1084.3 L126 1083.6 L128 1083 L130 1082.3 L132 1081.7 L134 1081 L136 1080.4 L138 1079.7 L140 1079.1 L142 1078.4 L144 1077.8 L146 1077.1 L148 1076.4 L150 1075.8 L152 1075.1 L154 1074.5 L156 1073.8 L158 1073.1 L160 1072.5 L162 1071.8 L164 1071.1 L166 1070.5 L168 1069.8 L170 1069.1 L172 1068.5 L174 1067.8 L176 1067.1 L178 1066.4 L180 1065.8 L182 1065.1 L184 1064.4 L186 1063.7 L188 1063.1 L190 1062.4 L192 1061.7 L194 1061 L196 1060.3 L198 1059.6 L200 1059 L202 1058.3 L204 1057.6 L206 1056.9 L208 1056.2 L210 1055.5 L212 1054.8 L214 1054.1 L216 1053.4 L218 1052.7 L220 1052 L222 1051.3 L224 1050.6 L226 1049.9 L228 1049.2 L230 1048.5 L232 1047.8 L234 1047.1 L236 1046.4 L238 1045.7 L240 1045 L242 1044.2 L244 1043.5 L246 1042.8 L248 1042.1 L250 1041.4 L252 1040.6 L254 1039.9 L256 1039.2 L258 1038.5 L260 1037.8 L262 1037 L264 1036.3 L266 1035.6 L268 1034.8 L270 1034.1 L272 1033.4 L274 1032.6 L276 1031.9 L278 1031.1 L280 1030.4 L282 1029.7 L284 1028.9 L286 1028.2 L288 1027.4 L290 1026.7 L292 1025.9 L294 1025.2 L296 1024.4 L298 1023.7 L300 1022.9 L302 1022.2 L304 1021.4 L306 1020.6 L308 1019.9 L310 1019.1 L312 1018.3 L314 1017.6 L316 1016.8 L318 1016 L320 1015.2 L322 1014.5 L324 1013.7 L326 1012.9 L328 1012.1 L330 1011.3 L332 1010.6 L334 1009.8 L336 1009 L338 1008.2 L340 1007.4 L342 1006.6 L344 1005.8 L346 1005 L348 1004.2 L350 1003.4 L352 1002.6 L354 1001.8 L356 1001 L358 1000.2 L360 999.4 L362 998.6 L364 997.7 L366 996.9 L368 996.1 L370 995.3 L372 994.5 L374 993.6 L376 992.8 L378 992 L380 991.1 L382 990.3 L384 989.5 L386 988.6 L388 987.8 L390 986.9 L392 986.1 L394 985.2 L396 984.4 L398 983.5 L400 982.7 L402 981.8 L404 981 L406 980.1 L408 979.2 L410 978.4 L412 977.5 L414 976.6 L416 975.7 L418 974.8 L420 974 L422 973.1 L424 972.2 L426 971.3 L428 970.4 L430 969.5 L432 968.6 L434 967.7 L436 966.8 L438 965.9 L440 965 L442 964.1 L444 963.2 L446 962.2 L448 961.3 L450 960.4 L452 959.5 L454 958.5 L456 957.6 L458 956.6 L460 955.7 L462 954.8 L464 953.8 L466 952.9 L468 951.9 L470 950.9 L472 950 L474 949 L476 948 L478 947.1 L480 946.1 L482 945.1 L484 944.1 L486 943.1 L488 942.1 L490 941.1 L492 940.1 L494 939.1 L496 938.1 L498 937.1 L500 936.1 L502 935.1 L504 934 L506 933 L508 932 L510 930.9 L512 929.9 L514 928.8 L516 927.8 L518 926.7 L520 925.7 L522 924.6 L524 923.5 L526 922.4 L528 921.4 L530 920.3 L532 919.2 L534 918.1 L536 917 L538 915.9 L540 914.7 L542 913.6 L544 912.5 L546 911.4 L548 910.2 L550 909.1 L552 907.9 L554 906.8 L556 905.6 L558 904.4 L560 903.2 L562 902.1 L564 900.9 L566 899.7 L568 898.4 L570 897.2 L572 896 L574 894.8 L576 893.5 L578 892.3 L580 891 L582 889.8 L584 888.5 L586 887.2 L588 885.9 L590 884.6 L592 883.3 L594 882 L596 880.7 L598 879.3 L600 878 L602 876.6 L604 875.3 L606 873.9 L608 872.5 L610 871.1 L612 869.7 L614 868.2 L616 866.8 L618 865.3 L620 863.9 L622 862.4 L624 860.9 L626 859.4 L628 857.8 L630 856.3 L632 854.7 L634 853.1 L636 851.5 L638 849.9 L640 848.3 L642 846.6 L644 844.9 L646 843.2 L648 841.5 L650 839.8 L652 838 L654 836.2 L656 834.4 L658 832.5 L660 830.7 L662 828.7 L664 826.8 L666 824.8 L668 822.8 L670 820.7 L672 818.6 L674 816.5 L676 814.3 L678 812 L680 809.7 L682 807.4 L684 804.9 L686 802.4 L688 799.8 L690 797.1 L690.5 796.4 L691 795.7 L691.5 795 L692 794.3 L692.5 793.6 L693 792.9 L693.5 792.2 L694 791.4 L694.5 790.7 L695 789.9 L695.5 789.1 L696 788.4 L696.5 787.6 L697 786.8 L697.5 786 L698 785.2 L698.5 784.3 L699 783.5 L699.5 782.6 L700 781.8 L700.5 780.9 L701 780 L701.5 779.1 L702 778.2 L702.5 777.2 L703 776.2 L703.5 775.3 L704 774.2 L704.5 773.2 L705 772.2 L705.5 771.1 L706 770 L706.5 768.8 L707 767.6 L707.5 766.4 L708 765.1 L708.5 763.8 L709 762.5 L709.5 761 L710 759.5 L710.5 757.9 L711 756.2 L711.5 754.3 L712 752.3 L712.5 749.9 L713 747.2 L713.5 743.4 L714 737.8 L1010 737.8" fill="none" stroke="#65232f" stroke-width="5.2" stroke-linejoin="round"/>
<text x="188.8" y="1218.3" font-size="28.5" text-anchor="middle" font-weight="normal" font-style="normal" fill="#000" >40</text>
<text x="394.1" y="1218.3" font-size="28.5" text-anchor="middle" font-weight="normal" font-style="normal" fill="#000" >45</text>
<text x="599.3" y="1218.3" font-size="28.5" text-anchor="middle" font-weight="normal" font-style="normal" fill="#000" >50</text>
<text x="804.5" y="1218.3" font-size="28.5" text-anchor="middle" font-weight="normal" font-style="normal" fill="#000" >55</text>
<text x="1009.8" y="1218.3" font-size="28.5" text-anchor="middle" font-weight="normal" font-style="normal" fill="#000" >60</text>
<text x="101.8" y="747.4" font-size="28.5" text-anchor="end" font-weight="normal" font-style="normal" fill="#000" >0</text>
<text x="101.8" y="852.8" font-size="28.5" text-anchor="end" font-weight="normal" font-style="normal" fill="#000" >100</text>
<text x="101.8" y="958.2" font-size="28.5" text-anchor="end" font-weight="normal" font-style="normal" fill="#000" >200</text>
<text x="101.8" y="1063.6" font-size="28.5" text-anchor="end" font-weight="normal" font-style="normal" fill="#000" >300</text>
<text x="101.8" y="1169" font-size="28.5" text-anchor="end" font-weight="normal" font-style="normal" fill="#000" >400</text>
<text x="384.3" y="1250.5" font-size="31.3">Scattering length, a</text>
<text x="654.4" y="1261.3" font-size="19" transform="translate(654.4,0) scale(0.9,1) translate(-654.4,0)">s</text>
<text x="672.7" y="1250.5" font-size="31.3">(a</text>
<text x="700" y="1261.3" font-size="19" transform="translate(700,0) scale(0.9,1) translate(-700,0)">0</text>
<text x="712.5" y="1250.5" font-size="31.3">)</text>
<text transform="translate(45.5,1143.3) rotate(-90)" font-size="32.25">Imaginary gap, Im[&#916;]/h (Hz)</text>
<text x="139" y="752" font-size="49" text-anchor="start" font-weight="bold" font-style="normal" fill="#000" >c</text>
<polygon points="734.3,936.5 740,948 746.8,961.5 754,973 762.4,983.4 772,992.5 782.7,1000.5 795,1006.5 809.3,1011.5 825,1015 842.8,1017.7 842.8,1087.2 825,1083.5 809.3,1078.6 795,1072.5 782.7,1064.5 772,1056 762.4,1045.8 754,1034.5 746.8,1022.4 740,1010 734.3,997.4" fill="#a6cb98" stroke="#5fae9c" stroke-width="0.8"/>
<path d="M724.5 929 L728.5 941 L732.8 956.8 L737.5 972 L743.7 988 L749.5 998.5 L756.2 1006.8 L765 1016.5 L775 1027 L786 1034 L798.3 1039.6 L811 1044 L824.9 1047.4 L840.5 1051.3" fill="none" stroke="#26817f" stroke-width="2.6" stroke-dasharray="8 5"/>
<polygon points="738.2,971.7 744.1,976 741.8,982.9 734.6,982.9 732.3,976" fill="#f6f6f4" stroke="#3b8f8c" stroke-width="1.6"/>
<polygon points="762.4,1009.6 768.3,1013.9 766,1020.8 758.8,1020.8 756.5,1013.9" fill="#f6f6f4" stroke="#3b8f8c" stroke-width="1.6"/>
<polygon points="788.2,1027.9 794.1,1032.2 791.8,1039.1 784.6,1039.1 782.3,1032.2" fill="#f6f6f4" stroke="#3b8f8c" stroke-width="1.6"/>
<polygon points="812.4,1038.8 818.3,1043.1 816,1050 808.8,1050 806.5,1043.1" fill="#f6f6f4" stroke="#3b8f8c" stroke-width="1.6"/>
<polygon points="837.4,1044.3 843.3,1048.6 841,1055.5 833.8,1055.5 831.5,1048.6" fill="#f6f6f4" stroke="#3b8f8c" stroke-width="1.6"/>
<path d="M637 925.1 L729.7 925.1 L731.5 935 L734.3 956.8 L739 972.4 L745 984.5 L751.5 994.3 L760 1005.5 L770.2 1016.1 L781 1025.5 L793.7 1033.3 L805 1038.5 L817 1042.7 L840.5 1048.2 L860 1052 L880 1054.2 L900 1055.2 L920 1056 L937.5 1056.2" fill="none" stroke="#65232f" stroke-width="3.4" stroke-linejoin="round"/>
<line x1="639.7" y1="1118.4" x2="639.7" y2="1110.4" stroke="#000" stroke-width="3" stroke-linecap="butt" />
<line x1="639.7" y1="902" x2="639.7" y2="910" stroke="#000" stroke-width="3" stroke-linecap="butt" />
<line x1="664.5" y1="1118.4" x2="664.5" y2="1113.9" stroke="#000" stroke-width="3" stroke-linecap="butt" />
<line x1="664.5" y1="902" x2="664.5" y2="906.5" stroke="#000" stroke-width="3" stroke-linecap="butt" />
<line x1="689.3" y1="1118.4" x2="689.3" y2="1110.4" stroke="#000" stroke-width="3" stroke-linecap="butt" />
<line x1="689.3" y1="902" x2="689.3" y2="910" stroke="#000" stroke-width="3" stroke-linecap="butt" />
<line x1="714.1" y1="1118.4" x2="714.1" y2="1113.9" stroke="#000" stroke-width="3" stroke-linecap="butt" />
<line x1="714.1" y1="902" x2="714.1" y2="906.5" stroke="#000" stroke-width="3" stroke-linecap="butt" />
<line x1="738.9" y1="1118.4" x2="738.9" y2="1110.4" stroke="#000" stroke-width="3" stroke-linecap="butt" />
<line x1="738.9" y1="902" x2="738.9" y2="910" stroke="#000" stroke-width="3" stroke-linecap="butt" />
<line x1="763.7" y1="1118.4" x2="763.7" y2="1113.9" stroke="#000" stroke-width="3" stroke-linecap="butt" />
<line x1="763.7" y1="902" x2="763.7" y2="906.5" stroke="#000" stroke-width="3" stroke-linecap="butt" />
<line x1="788.5" y1="1118.4" x2="788.5" y2="1110.4" stroke="#000" stroke-width="3" stroke-linecap="butt" />
<line x1="788.5" y1="902" x2="788.5" y2="910" stroke="#000" stroke-width="3" stroke-linecap="butt" />
<line x1="813.3" y1="1118.4" x2="813.3" y2="1113.9" stroke="#000" stroke-width="3" stroke-linecap="butt" />
<line x1="813.3" y1="902" x2="813.3" y2="906.5" stroke="#000" stroke-width="3" stroke-linecap="butt" />
<line x1="838.1" y1="1118.4" x2="838.1" y2="1110.4" stroke="#000" stroke-width="3" stroke-linecap="butt" />
<line x1="838.1" y1="902" x2="838.1" y2="910" stroke="#000" stroke-width="3" stroke-linecap="butt" />
<line x1="862.9" y1="1118.4" x2="862.9" y2="1113.9" stroke="#000" stroke-width="3" stroke-linecap="butt" />
<line x1="862.9" y1="902" x2="862.9" y2="906.5" stroke="#000" stroke-width="3" stroke-linecap="butt" />
<line x1="887.7" y1="1118.4" x2="887.7" y2="1110.4" stroke="#000" stroke-width="3" stroke-linecap="butt" />
<line x1="887.7" y1="902" x2="887.7" y2="910" stroke="#000" stroke-width="3" stroke-linecap="butt" />
<line x1="912.5" y1="1118.4" x2="912.5" y2="1113.9" stroke="#000" stroke-width="3" stroke-linecap="butt" />
<line x1="912.5" y1="902" x2="912.5" y2="906.5" stroke="#000" stroke-width="3" stroke-linecap="butt" />
<line x1="937.3" y1="1118.4" x2="937.3" y2="1110.4" stroke="#000" stroke-width="3" stroke-linecap="butt" />
<line x1="937.3" y1="902" x2="937.3" y2="910" stroke="#000" stroke-width="3" stroke-linecap="butt" />
<line x1="635.6" y1="925" x2="643.6" y2="925" stroke="#000" stroke-width="3" stroke-linecap="butt" />
<line x1="941.2" y1="925" x2="933.2" y2="925" stroke="#000" stroke-width="3" stroke-linecap="butt" />
<line x1="635.6" y1="949.2" x2="640.1" y2="949.2" stroke="#000" stroke-width="3" stroke-linecap="butt" />
<line x1="941.2" y1="949.2" x2="936.7" y2="949.2" stroke="#000" stroke-width="3" stroke-linecap="butt" />
<line x1="635.6" y1="973.4" x2="643.6" y2="973.4" stroke="#000" stroke-width="3" stroke-linecap="butt" />
<line x1="941.2" y1="973.4" x2="933.2" y2="973.4" stroke="#000" stroke-width="3" stroke-linecap="butt" />
<line x1="635.6" y1="997.6" x2="640.1" y2="997.6" stroke="#000" stroke-width="3" stroke-linecap="butt" />
<line x1="941.2" y1="997.6" x2="936.7" y2="997.6" stroke="#000" stroke-width="3" stroke-linecap="butt" />
<line x1="635.6" y1="1021.8" x2="643.6" y2="1021.8" stroke="#000" stroke-width="3" stroke-linecap="butt" />
<line x1="941.2" y1="1021.8" x2="933.2" y2="1021.8" stroke="#000" stroke-width="3" stroke-linecap="butt" />
<line x1="635.6" y1="1045.9" x2="640.1" y2="1045.9" stroke="#000" stroke-width="3" stroke-linecap="butt" />
<line x1="941.2" y1="1045.9" x2="936.7" y2="1045.9" stroke="#000" stroke-width="3" stroke-linecap="butt" />
<line x1="635.6" y1="1070.1" x2="643.6" y2="1070.1" stroke="#000" stroke-width="3" stroke-linecap="butt" />
<line x1="941.2" y1="1070.1" x2="933.2" y2="1070.1" stroke="#000" stroke-width="3" stroke-linecap="butt" />
<line x1="635.6" y1="1094.3" x2="640.1" y2="1094.3" stroke="#000" stroke-width="3" stroke-linecap="butt" />
<line x1="941.2" y1="1094.3" x2="936.7" y2="1094.3" stroke="#000" stroke-width="3" stroke-linecap="butt" />
<line x1="635.6" y1="1118.5" x2="643.6" y2="1118.5" stroke="#000" stroke-width="3" stroke-linecap="butt" />
<line x1="941.2" y1="1118.5" x2="933.2" y2="1118.5" stroke="#000" stroke-width="3" stroke-linecap="butt" />
<rect x="635.6" y="902.0" width="305.6" height="216.4000000000001" fill="none" stroke="#000" stroke-width="3"/>
<text x="640" y="1141.5" font-size="24.5" text-anchor="middle" font-weight="normal" font-style="normal" fill="#000" >0</text>
<text x="689.6" y="1141.5" font-size="24.5" text-anchor="middle" font-weight="normal" font-style="normal" fill="#000" >1</text>
<text x="739.2" y="1141.5" font-size="24.5" text-anchor="middle" font-weight="normal" font-style="normal" fill="#000" >2</text>
<text x="788.8" y="1141.5" font-size="24.5" text-anchor="middle" font-weight="normal" font-style="normal" fill="#000" >3</text>
<text x="838.4" y="1141.5" font-size="24.5" text-anchor="middle" font-weight="normal" font-style="normal" fill="#000" >4</text>
<text x="888" y="1141.5" font-size="24.5" text-anchor="middle" font-weight="normal" font-style="normal" fill="#000" >5</text>
<text x="937.6" y="1141.5" font-size="24.5" text-anchor="middle" font-weight="normal" font-style="normal" fill="#000" >6</text>
<text x="632.3" y="933.8" font-size="24.5" text-anchor="end" font-weight="normal" font-style="normal" fill="#000" >0</text>
<text x="632.3" y="982.2" font-size="24.5" text-anchor="end" font-weight="normal" font-style="normal" fill="#000" >50</text>
<text x="632.3" y="1030.5" font-size="24.5" text-anchor="end" font-weight="normal" font-style="normal" fill="#000" >100</text>
<text x="632.3" y="1078.9" font-size="24.5" text-anchor="end" font-weight="normal" font-style="normal" fill="#000" >150</text>
<text x="632.3" y="1127.3" font-size="24.5" text-anchor="end" font-weight="normal" font-style="normal" fill="#000" >200</text>
<text x="694.4" y="1168.6" font-size="25.5" textLength="139" lengthAdjust="spacingAndGlyphs">Hold time, t</text>
<text x="833.3" y="1178" font-size="17">h</text>
<text x="849.2" y="1168.6" font-size="25.5" textLength="56.2" lengthAdjust="spacingAndGlyphs">(ms)</text></svg></body></html>
